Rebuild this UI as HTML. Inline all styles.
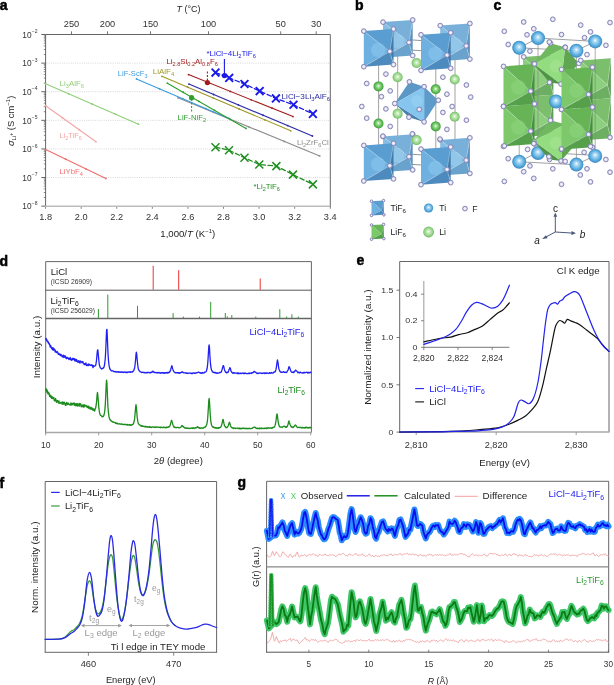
<!DOCTYPE html>
<html><head><meta charset="utf-8"><style>
html,body{margin:0;padding:0;background:#fff;}
svg{display:block;font-family:"Liberation Sans", sans-serif;}
text{-webkit-font-smoothing:antialiased;}
#wrap{will-change:transform;opacity:0.999;width:614px;height:685px;}
</style></head><body><div id="wrap">
<svg id="root" width="614" height="685" viewBox="0 0 614 685">
<rect width="614" height="685" fill="#fff"/>
<defs>
<radialGradient id="gLiL" cx="0.5" cy="0.5" r="0.55" fx="0.5" fy="0.45"><stop offset="0" stop-color="#ffffff"/><stop offset="0.22" stop-color="#cdeec0"/><stop offset="0.65" stop-color="#98d68a"/><stop offset="1" stop-color="#62ae56"/></radialGradient>
<radialGradient id="gLiD" cx="0.5" cy="0.5" r="0.55" fx="0.5" fy="0.45"><stop offset="0" stop-color="#ffffff"/><stop offset="0.22" stop-color="#a8e49a"/><stop offset="0.65" stop-color="#5cbb55"/><stop offset="1" stop-color="#358c35"/></radialGradient>
<radialGradient id="gTi" cx="0.5" cy="0.5" r="0.55" fx="0.5" fy="0.42"><stop offset="0" stop-color="#ffffff"/><stop offset="0.2" stop-color="#b5def6"/><stop offset="0.65" stop-color="#5aaee0"/><stop offset="1" stop-color="#2f7db5"/></radialGradient>
<radialGradient id="gF" cx="0.5" cy="0.5" r="0.5"><stop offset="0" stop-color="#ffffff"/><stop offset="0.5" stop-color="#e4e4f4"/><stop offset="1" stop-color="#b8b8d8"/></radialGradient>
</defs>
<g id="pa"><line x1="46.6" y1="63.11" x2="330.3" y2="63.11" stroke="#c8c8c8" stroke-width="0.8" stroke-dasharray="0.9 1.3"/><line x1="46.6" y1="91.72" x2="330.3" y2="91.72" stroke="#c8c8c8" stroke-width="0.8" stroke-dasharray="0.9 1.3"/><line x1="46.6" y1="120.33" x2="330.3" y2="120.33" stroke="#c8c8c8" stroke-width="0.8" stroke-dasharray="0.9 1.3"/><line x1="46.6" y1="148.94" x2="330.3" y2="148.94" stroke="#c8c8c8" stroke-width="0.8" stroke-dasharray="0.9 1.3"/><line x1="46.6" y1="177.55" x2="330.3" y2="177.55" stroke="#c8c8c8" stroke-width="0.8" stroke-dasharray="0.9 1.3"/><line x1="41.3" y1="34.5" x2="45.6" y2="34.5" stroke="#555" stroke-width="0.9" /><line x1="43.8" y1="54.5" x2="45.6" y2="54.5" stroke="#555" stroke-width="0.7" /><line x1="43.8" y1="49.46" x2="45.6" y2="49.46" stroke="#555" stroke-width="0.7" /><line x1="43.8" y1="45.89" x2="45.6" y2="45.89" stroke="#555" stroke-width="0.7" /><line x1="43.8" y1="43.11" x2="45.6" y2="43.11" stroke="#555" stroke-width="0.7" /><line x1="43.8" y1="40.85" x2="45.6" y2="40.85" stroke="#555" stroke-width="0.7" /><line x1="43.8" y1="38.93" x2="45.6" y2="38.93" stroke="#555" stroke-width="0.7" /><line x1="43.8" y1="37.27" x2="45.6" y2="37.27" stroke="#555" stroke-width="0.7" /><line x1="43.8" y1="35.81" x2="45.6" y2="35.81" stroke="#555" stroke-width="0.7" /><text x="31.6" y="37.8" font-size="8.3" fill="#333" text-anchor="end" font-weight="normal" >10</text><text x="31.8" y="33.2" font-size="5" fill="#333">−2</text><line x1="41.3" y1="63.11" x2="45.6" y2="63.11" stroke="#555" stroke-width="0.9" /><line x1="43.8" y1="83.11" x2="45.6" y2="83.11" stroke="#555" stroke-width="0.7" /><line x1="43.8" y1="78.07" x2="45.6" y2="78.07" stroke="#555" stroke-width="0.7" /><line x1="43.8" y1="74.5" x2="45.6" y2="74.5" stroke="#555" stroke-width="0.7" /><line x1="43.8" y1="71.72" x2="45.6" y2="71.72" stroke="#555" stroke-width="0.7" /><line x1="43.8" y1="69.46" x2="45.6" y2="69.46" stroke="#555" stroke-width="0.7" /><line x1="43.8" y1="67.54" x2="45.6" y2="67.54" stroke="#555" stroke-width="0.7" /><line x1="43.8" y1="65.88" x2="45.6" y2="65.88" stroke="#555" stroke-width="0.7" /><line x1="43.8" y1="64.42" x2="45.6" y2="64.42" stroke="#555" stroke-width="0.7" /><text x="31.6" y="66.41" font-size="8.3" fill="#333" text-anchor="end" font-weight="normal" >10</text><text x="31.8" y="61.81" font-size="5" fill="#333">−3</text><line x1="41.3" y1="91.72" x2="45.6" y2="91.72" stroke="#555" stroke-width="0.9" /><line x1="43.8" y1="111.72" x2="45.6" y2="111.72" stroke="#555" stroke-width="0.7" /><line x1="43.8" y1="106.68" x2="45.6" y2="106.68" stroke="#555" stroke-width="0.7" /><line x1="43.8" y1="103.11" x2="45.6" y2="103.11" stroke="#555" stroke-width="0.7" /><line x1="43.8" y1="100.33" x2="45.6" y2="100.33" stroke="#555" stroke-width="0.7" /><line x1="43.8" y1="98.07" x2="45.6" y2="98.07" stroke="#555" stroke-width="0.7" /><line x1="43.8" y1="96.15" x2="45.6" y2="96.15" stroke="#555" stroke-width="0.7" /><line x1="43.8" y1="94.49" x2="45.6" y2="94.49" stroke="#555" stroke-width="0.7" /><line x1="43.8" y1="93.03" x2="45.6" y2="93.03" stroke="#555" stroke-width="0.7" /><text x="31.6" y="95.02" font-size="8.3" fill="#333" text-anchor="end" font-weight="normal" >10</text><text x="31.8" y="90.42" font-size="5" fill="#333">−4</text><line x1="41.3" y1="120.33" x2="45.6" y2="120.33" stroke="#555" stroke-width="0.9" /><line x1="43.8" y1="140.33" x2="45.6" y2="140.33" stroke="#555" stroke-width="0.7" /><line x1="43.8" y1="135.29" x2="45.6" y2="135.29" stroke="#555" stroke-width="0.7" /><line x1="43.8" y1="131.72" x2="45.6" y2="131.72" stroke="#555" stroke-width="0.7" /><line x1="43.8" y1="128.94" x2="45.6" y2="128.94" stroke="#555" stroke-width="0.7" /><line x1="43.8" y1="126.68" x2="45.6" y2="126.68" stroke="#555" stroke-width="0.7" /><line x1="43.8" y1="124.76" x2="45.6" y2="124.76" stroke="#555" stroke-width="0.7" /><line x1="43.8" y1="123.1" x2="45.6" y2="123.1" stroke="#555" stroke-width="0.7" /><line x1="43.8" y1="121.64" x2="45.6" y2="121.64" stroke="#555" stroke-width="0.7" /><text x="31.6" y="123.63" font-size="8.3" fill="#333" text-anchor="end" font-weight="normal" >10</text><text x="31.8" y="119.03" font-size="5" fill="#333">−5</text><line x1="41.3" y1="148.94" x2="45.6" y2="148.94" stroke="#555" stroke-width="0.9" /><line x1="43.8" y1="168.94" x2="45.6" y2="168.94" stroke="#555" stroke-width="0.7" /><line x1="43.8" y1="163.9" x2="45.6" y2="163.9" stroke="#555" stroke-width="0.7" /><line x1="43.8" y1="160.33" x2="45.6" y2="160.33" stroke="#555" stroke-width="0.7" /><line x1="43.8" y1="157.55" x2="45.6" y2="157.55" stroke="#555" stroke-width="0.7" /><line x1="43.8" y1="155.29" x2="45.6" y2="155.29" stroke="#555" stroke-width="0.7" /><line x1="43.8" y1="153.37" x2="45.6" y2="153.37" stroke="#555" stroke-width="0.7" /><line x1="43.8" y1="151.71" x2="45.6" y2="151.71" stroke="#555" stroke-width="0.7" /><line x1="43.8" y1="150.25" x2="45.6" y2="150.25" stroke="#555" stroke-width="0.7" /><text x="31.6" y="152.24" font-size="8.3" fill="#333" text-anchor="end" font-weight="normal" >10</text><text x="31.8" y="147.64" font-size="5" fill="#333">−6</text><line x1="41.3" y1="177.55" x2="45.6" y2="177.55" stroke="#555" stroke-width="0.9" /><line x1="43.8" y1="197.55" x2="45.6" y2="197.55" stroke="#555" stroke-width="0.7" /><line x1="43.8" y1="192.51" x2="45.6" y2="192.51" stroke="#555" stroke-width="0.7" /><line x1="43.8" y1="188.94" x2="45.6" y2="188.94" stroke="#555" stroke-width="0.7" /><line x1="43.8" y1="186.16" x2="45.6" y2="186.16" stroke="#555" stroke-width="0.7" /><line x1="43.8" y1="183.9" x2="45.6" y2="183.9" stroke="#555" stroke-width="0.7" /><line x1="43.8" y1="181.98" x2="45.6" y2="181.98" stroke="#555" stroke-width="0.7" /><line x1="43.8" y1="180.32" x2="45.6" y2="180.32" stroke="#555" stroke-width="0.7" /><line x1="43.8" y1="178.86" x2="45.6" y2="178.86" stroke="#555" stroke-width="0.7" /><text x="31.6" y="180.85" font-size="8.3" fill="#333" text-anchor="end" font-weight="normal" >10</text><text x="31.8" y="176.25" font-size="5" fill="#333">−7</text><line x1="41.3" y1="206.16" x2="45.6" y2="206.16" stroke="#555" stroke-width="0.9" /><text x="31.6" y="209.46" font-size="8.3" fill="#333" text-anchor="end" font-weight="normal" >10</text><text x="31.8" y="204.86" font-size="5" fill="#333">−8</text><line x1="45.6" y1="206.2" x2="45.6" y2="208.8" stroke="#666" stroke-width="0.8" /><text transform="translate(45.6 220.3) scale(1.100 1)" x="0" y="0" font-size="8.4" fill="#333" text-anchor="middle" font-weight="normal" >1.8</text><line x1="81.18" y1="206.2" x2="81.18" y2="208.8" stroke="#666" stroke-width="0.8" /><text transform="translate(81.18 220.3) scale(1.100 1)" x="0" y="0" font-size="8.4" fill="#333" text-anchor="middle" font-weight="normal" >2.0</text><line x1="116.76" y1="206.2" x2="116.76" y2="208.8" stroke="#666" stroke-width="0.8" /><text transform="translate(116.76 220.3) scale(1.100 1)" x="0" y="0" font-size="8.4" fill="#333" text-anchor="middle" font-weight="normal" >2.2</text><line x1="152.34" y1="206.2" x2="152.34" y2="208.8" stroke="#666" stroke-width="0.8" /><text transform="translate(152.34 220.3) scale(1.100 1)" x="0" y="0" font-size="8.4" fill="#333" text-anchor="middle" font-weight="normal" >2.4</text><line x1="187.92" y1="206.2" x2="187.92" y2="208.8" stroke="#666" stroke-width="0.8" /><text transform="translate(187.92 220.3) scale(1.100 1)" x="0" y="0" font-size="8.4" fill="#333" text-anchor="middle" font-weight="normal" >2.6</text><line x1="223.5" y1="206.2" x2="223.5" y2="208.8" stroke="#666" stroke-width="0.8" /><text transform="translate(223.5 220.3) scale(1.100 1)" x="0" y="0" font-size="8.4" fill="#333" text-anchor="middle" font-weight="normal" >2.8</text><line x1="259.08" y1="206.2" x2="259.08" y2="208.8" stroke="#666" stroke-width="0.8" /><text transform="translate(259.08 220.3) scale(1.100 1)" x="0" y="0" font-size="8.4" fill="#333" text-anchor="middle" font-weight="normal" >3.0</text><line x1="294.66" y1="206.2" x2="294.66" y2="208.8" stroke="#666" stroke-width="0.8" /><text transform="translate(294.66 220.3) scale(1.100 1)" x="0" y="0" font-size="8.4" fill="#333" text-anchor="middle" font-weight="normal" >3.2</text><line x1="330.24" y1="206.2" x2="330.24" y2="208.8" stroke="#666" stroke-width="0.8" /><text transform="translate(330.24 220.3) scale(1.100 1)" x="0" y="0" font-size="8.4" fill="#333" text-anchor="middle" font-weight="normal" >3.4</text><line x1="71.5" y1="34.5" x2="71.5" y2="31.3" stroke="#555" stroke-width="0.8" /><text transform="translate(71.5 26.9) scale(1.100 1)" x="0" y="0" font-size="8.4" fill="#333" text-anchor="middle" font-weight="normal" >250</text><line x1="107.5" y1="34.5" x2="107.5" y2="31.3" stroke="#555" stroke-width="0.8" /><text transform="translate(107.5 26.9) scale(1.100 1)" x="0" y="0" font-size="8.4" fill="#333" text-anchor="middle" font-weight="normal" >200</text><line x1="150.5" y1="34.5" x2="150.5" y2="31.3" stroke="#555" stroke-width="0.8" /><text transform="translate(150.5 26.9) scale(1.100 1)" x="0" y="0" font-size="8.4" fill="#333" text-anchor="middle" font-weight="normal" >150</text><line x1="208.5" y1="34.5" x2="208.5" y2="31.3" stroke="#555" stroke-width="0.8" /><text transform="translate(208.5 26.9) scale(1.100 1)" x="0" y="0" font-size="8.4" fill="#333" text-anchor="middle" font-weight="normal" >100</text><line x1="280.7" y1="34.5" x2="280.7" y2="31.3" stroke="#555" stroke-width="0.8" /><text transform="translate(280.7 26.9) scale(1.100 1)" x="0" y="0" font-size="8.4" fill="#333" text-anchor="middle" font-weight="normal" >50</text><line x1="316.2" y1="34.5" x2="316.2" y2="31.3" stroke="#555" stroke-width="0.8" /><text transform="translate(316.2 26.9) scale(1.100 1)" x="0" y="0" font-size="8.4" fill="#333" text-anchor="middle" font-weight="normal" >30</text><line x1="45.6" y1="34.5" x2="330.3" y2="34.5" stroke="#555" stroke-width="0.9" /><line x1="45.6" y1="34.5" x2="45.6" y2="206.2" stroke="#555" stroke-width="0.9" /><line x1="330.3" y1="34.5" x2="330.3" y2="207.2" stroke="#555" stroke-width="0.9" /><line x1="45.1" y1="206.2" x2="330.3" y2="206.2" stroke="#bdbdbd" stroke-width="1.6" /><text transform="translate(176.5 11.7) scale(0.942 1)" x="0" y="0" font-size="9.5" fill="#1c1c1c" text-anchor="start" font-weight="normal" ><tspan font-style="italic">T</tspan> (°C)</text><text transform="translate(160.3 236.7) scale(1.002 1)" font-size="9.6" fill="#1c1c1c">1,000/<tspan font-style="italic">T</tspan> (K<tspan dy="-3.4" font-size="6">−1</tspan><tspan dy="3.4">)</tspan></text><text transform="translate(13.61 120.9) rotate(-90) scale(1.015 1)" x="0" y="0" font-size="9.2" fill="#1c1c1c" text-anchor="middle"><tspan font-style="italic">σ</tspan><tspan dy="2.2" font-size="6">Li</tspan><tspan dy="-3" font-size="5">+</tspan><tspan dy="0.8"> (S cm</tspan><tspan dy="-3.4" font-size="6">−1</tspan><tspan dy="3.4">)</tspan></text><text x="-0.3" y="9.8" font-size="14" font-weight="bold" fill="#000" stroke="#000" stroke-width="0.5">a</text><line x1="45.6" y1="83.8" x2="138.5" y2="124.2" stroke="#8fcf78" stroke-width="1.1" /><circle cx="68.83" cy="93.9" r="0.9" fill="#8fcf78"/><circle cx="92.05" cy="104" r="0.9" fill="#8fcf78"/><circle cx="115.28" cy="114.1" r="0.9" fill="#8fcf78"/><circle cx="45.6" cy="83.8" r="0.9" fill="#8fcf78"/><circle cx="138.5" cy="124.2" r="0.9" fill="#8fcf78"/><line x1="45.6" y1="105.7" x2="96" y2="141.8" stroke="#f5a5a5" stroke-width="1.1" /><circle cx="62.4" cy="117.73" r="0.9" fill="#f5a5a5"/><circle cx="79.2" cy="129.77" r="0.9" fill="#f5a5a5"/><circle cx="45.6" cy="105.7" r="0.9" fill="#f5a5a5"/><circle cx="96" cy="141.8" r="0.9" fill="#f5a5a5"/><line x1="45.6" y1="149.6" x2="105.9" y2="178.5" stroke="#f26d6d" stroke-width="1.1" /><circle cx="65.7" cy="159.23" r="0.9" fill="#f26d6d"/><circle cx="85.8" cy="168.87" r="0.9" fill="#f26d6d"/><circle cx="45.6" cy="149.6" r="0.9" fill="#f26d6d"/><circle cx="105.9" cy="178.5" r="0.9" fill="#f26d6d"/><line x1="178" y1="97.8" x2="319.7" y2="155.9" stroke="#8c8c8c" stroke-width="1.1" /><circle cx="213.43" cy="112.33" r="0.9" fill="#8c8c8c"/><circle cx="248.85" cy="126.85" r="0.9" fill="#8c8c8c"/><circle cx="284.27" cy="141.38" r="0.9" fill="#8c8c8c"/><circle cx="178" cy="97.8" r="0.9" fill="#8c8c8c"/><circle cx="319.7" cy="155.9" r="0.9" fill="#8c8c8c"/><line x1="136.5" y1="78.9" x2="229" y2="118.4" stroke="#3b9ce0" stroke-width="1.1" /><circle cx="159.62" cy="88.78" r="0.9" fill="#3b9ce0"/><circle cx="182.75" cy="98.65" r="0.9" fill="#3b9ce0"/><circle cx="205.88" cy="108.53" r="0.9" fill="#3b9ce0"/><circle cx="136.5" cy="78.9" r="0.9" fill="#3b9ce0"/><circle cx="229" cy="118.4" r="0.9" fill="#3b9ce0"/><line x1="161.9" y1="76.3" x2="290.7" y2="130.8" stroke="#a09a26" stroke-width="1.1" /><circle cx="187.66" cy="87.2" r="0.9" fill="#a09a26"/><circle cx="213.42" cy="98.1" r="0.9" fill="#a09a26"/><circle cx="239.18" cy="109" r="0.9" fill="#a09a26"/><circle cx="264.94" cy="119.9" r="0.9" fill="#a09a26"/><circle cx="161.9" cy="76.3" r="0.9" fill="#a09a26"/><circle cx="290.7" cy="130.8" r="0.9" fill="#a09a26"/><line x1="167.4" y1="83.2" x2="246" y2="128.4" stroke="#2e9e2e" stroke-width="1.1" /><circle cx="183.12" cy="92.24" r="0.9" fill="#2e9e2e"/><circle cx="198.84" cy="101.28" r="0.9" fill="#2e9e2e"/><circle cx="214.56" cy="110.32" r="0.9" fill="#2e9e2e"/><circle cx="230.28" cy="119.36" r="0.9" fill="#2e9e2e"/><circle cx="167.4" cy="83.2" r="0.9" fill="#2e9e2e"/><circle cx="246" cy="128.4" r="0.9" fill="#2e9e2e"/><line x1="188.9" y1="84.1" x2="312.4" y2="136" stroke="#2b2ba6" stroke-width="1.1" /><circle cx="213.6" cy="94.48" r="0.9" fill="#2b2ba6"/><circle cx="238.3" cy="104.86" r="0.9" fill="#2b2ba6"/><circle cx="263" cy="115.24" r="0.9" fill="#2b2ba6"/><circle cx="287.7" cy="125.62" r="0.9" fill="#2b2ba6"/><circle cx="188.9" cy="84.1" r="0.9" fill="#2b2ba6"/><circle cx="312.4" cy="136" r="0.9" fill="#2b2ba6"/><line x1="188.5" y1="74.6" x2="293" y2="116.6" stroke="#a31c1c" stroke-width="1.1" /><circle cx="209.4" cy="83" r="0.9" fill="#a31c1c"/><circle cx="230.3" cy="91.4" r="0.9" fill="#a31c1c"/><circle cx="251.2" cy="99.8" r="0.9" fill="#a31c1c"/><circle cx="272.1" cy="108.2" r="0.9" fill="#a31c1c"/><circle cx="188.5" cy="74.6" r="0.9" fill="#a31c1c"/><circle cx="293" cy="116.6" r="0.9" fill="#a31c1c"/><line x1="207.4" y1="71.5" x2="207.4" y2="81" stroke="#a31c1c" stroke-width="1.1" stroke-dasharray="2 1.5"/><circle cx="207.4" cy="82.6" r="2.6" fill="#a31c1c"/><line x1="191.6" y1="99" x2="191.6" y2="111.5" stroke="#2e9e2e" stroke-width="1.1" stroke-dasharray="2 1.5"/><circle cx="191.6" cy="97.7" r="2.6" fill="#2e9e2e"/><polyline points="215.5,72.6 229.2,77.9 244.5,84 259.7,91.1 275.9,98.4 293.5,104.8 312.9,113.9" fill="none" stroke="#1a1ae8" stroke-width="1.3" stroke-linejoin="round" stroke-linecap="round" stroke-dasharray="4.5 2.5"/><path d="M211.6,68.7L219.4,76.5M211.6,76.5L219.4,68.7" stroke="#1a1ae8" stroke-width="1.9" fill="none"/><path d="M225.3,74L233.1,81.8M225.3,81.8L233.1,74" stroke="#1a1ae8" stroke-width="1.9" fill="none"/><path d="M240.6,80.1L248.4,87.9M240.6,87.9L248.4,80.1" stroke="#1a1ae8" stroke-width="1.9" fill="none"/><path d="M255.8,87.2L263.6,95M255.8,95L263.6,87.2" stroke="#1a1ae8" stroke-width="1.9" fill="none"/><path d="M272,94.5L279.8,102.3M272,102.3L279.8,94.5" stroke="#1a1ae8" stroke-width="1.9" fill="none"/><path d="M289.6,100.9L297.4,108.7M289.6,108.7L297.4,100.9" stroke="#1a1ae8" stroke-width="1.9" fill="none"/><path d="M309,110L316.8,117.8M309,117.8L316.8,110" stroke="#1a1ae8" stroke-width="1.9" fill="none"/><line x1="224.4" y1="59" x2="224.4" y2="75" stroke="#1a1ae8" stroke-width="1.1" /><circle cx="224.4" cy="75.6" r="2.6" fill="#1a1ae8"/><polyline points="215.5,147.2 229,150.2 244.5,157.7 259.3,164.5 276.4,166.1 293,174.6 312.9,184.4" fill="none" stroke="#1f8f1f" stroke-width="1.3" stroke-linejoin="round" stroke-linecap="round" stroke-dasharray="4.5 2.5"/><path d="M211.5,143.2L219.5,151.2M211.5,151.2L219.5,143.2" stroke="#1f8f1f" stroke-width="1.5" fill="none"/><path d="M225,146.2L233,154.2M225,154.2L233,146.2" stroke="#1f8f1f" stroke-width="1.5" fill="none"/><path d="M240.5,153.7L248.5,161.7M240.5,161.7L248.5,153.7" stroke="#1f8f1f" stroke-width="1.5" fill="none"/><path d="M255.3,160.5L263.3,168.5M255.3,168.5L263.3,160.5" stroke="#1f8f1f" stroke-width="1.5" fill="none"/><path d="M272.4,162.1L280.4,170.1M272.4,170.1L280.4,162.1" stroke="#1f8f1f" stroke-width="1.5" fill="none"/><path d="M289,170.6L297,178.6M289,178.6L297,170.6" stroke="#1f8f1f" stroke-width="1.5" fill="none"/><path d="M308.9,180.4L316.9,188.4M308.9,188.4L316.9,180.4" stroke="#1f8f1f" stroke-width="1.5" fill="none"/><text transform="translate(59.6 85.68) scale(0.987 1)" x="0" y="0" font-size="8" fill="#8fcf78" text-anchor="start" font-weight="normal" >Li<tspan dy="2" font-size="0.72em">3</tspan><tspan dy="-2">​</tspan>AlF<tspan dy="2" font-size="0.72em">6</tspan><tspan dy="-2">​</tspan></text><text transform="translate(59.5 138.38) scale(0.929 1)" x="0" y="0" font-size="8" fill="#f5a5a5" text-anchor="start" font-weight="normal" >Li<tspan dy="2" font-size="0.72em">2</tspan><tspan dy="-2">​</tspan>TiF<tspan dy="2" font-size="0.72em">6</tspan><tspan dy="-2">​</tspan></text><text transform="translate(59.5 173.58) scale(0.975 1)" x="0" y="0" font-size="8" fill="#f26d6d" text-anchor="start" font-weight="normal" >LiYbF<tspan dy="2" font-size="0.72em">4</tspan><tspan dy="-2">​</tspan></text><text transform="translate(117.7 76.38) scale(0.955 1)" x="0" y="0" font-size="8" fill="#3b9ce0" text-anchor="start" font-weight="normal" >LiF-ScF<tspan dy="2" font-size="0.72em">3</tspan><tspan dy="-2">​</tspan></text><text x="152.7" y="73.88" font-size="8" fill="#a09a26" text-anchor="start" font-weight="normal" >LiAlF<tspan dy="2" font-size="0.72em">4</tspan><tspan dy="-2">​</tspan></text><text transform="translate(166.4 64.18) scale(0.978 1)" x="0" y="0" font-size="8" fill="#a31c1c" text-anchor="start" font-weight="normal" >Li<tspan dy="2" font-size="0.72em">2.8</tspan><tspan dy="-2">​</tspan>Si<tspan dy="2" font-size="0.72em">0.2</tspan><tspan dy="-2">​</tspan>Al<tspan dy="2" font-size="0.72em">0.8</tspan><tspan dy="-2">​</tspan>F<tspan dy="2" font-size="0.72em">6</tspan><tspan dy="-2">​</tspan></text><text transform="translate(177.6 119.98) scale(0.965 1)" x="0" y="0" font-size="8" fill="#2e9e2e" text-anchor="start" font-weight="normal" >LiF-NiF<tspan dy="2" font-size="0.72em">2</tspan><tspan dy="-2">​</tspan></text><text transform="translate(206.4 55.68) scale(0.992 1)" x="0" y="0" font-size="8" fill="#1a1ae8" text-anchor="start" font-weight="normal" >*LiCl−4Li<tspan dy="2" font-size="0.72em">2</tspan><tspan dy="-2">​</tspan>TiF<tspan dy="2" font-size="0.72em">6</tspan><tspan dy="-2">​</tspan></text><text transform="translate(281.6 98.68) scale(1.018 1)" x="0" y="0" font-size="8" fill="#2b2ba6" text-anchor="start" font-weight="normal" >LiCl−3Li<tspan dy="2" font-size="0.72em">3</tspan><tspan dy="-2">​</tspan>AlF<tspan dy="2" font-size="0.72em">6</tspan><tspan dy="-2">​</tspan></text><text transform="translate(296.9 145.08) scale(0.978 1)" x="0" y="0" font-size="8" fill="#8c8c8c" text-anchor="start" font-weight="normal" >Li<tspan dy="2" font-size="0.72em">2</tspan><tspan dy="-2">​</tspan>ZrF<tspan dy="2" font-size="0.72em">6</tspan><tspan dy="-2">​</tspan>Cl</text><text transform="translate(253.6 189.08) scale(0.970 1)" x="0" y="0" font-size="8" fill="#1f8f1f" text-anchor="start" font-weight="normal" >*Li<tspan dy="2" font-size="0.72em">2</tspan><tspan dy="-2">​</tspan>TiF<tspan dy="2" font-size="0.72em">6</tspan><tspan dy="-2">​</tspan></text></g>
<g id="pbc"><text x="354.9" y="9.8" font-size="14" font-weight="bold" fill="#000" stroke="#000" stroke-width="0.5">b</text><line x1="378.6" y1="48" x2="378.6" y2="162.3" stroke="#7a7a7a" stroke-width="0.7" /><line x1="397.7" y1="39" x2="397.7" y2="153.3" stroke="#7a7a7a" stroke-width="0.7" /><line x1="435.8" y1="51.6" x2="435.8" y2="165.9" stroke="#7a7a7a" stroke-width="0.7" /><line x1="455" y1="42.8" x2="455" y2="157.1" stroke="#7a7a7a" stroke-width="0.7" /><line x1="378.6" y1="48" x2="397.7" y2="39" stroke="#666" stroke-width="0.7" /><line x1="397.7" y1="39" x2="455" y2="42.8" stroke="#666" stroke-width="0.7" /><line x1="378.6" y1="48" x2="435.8" y2="51.6" stroke="#666" stroke-width="0.7" /><line x1="435.8" y1="51.6" x2="455" y2="42.8" stroke="#666" stroke-width="0.7" /><line x1="378.6" y1="162.3" x2="397.7" y2="153.3" stroke="#666" stroke-width="0.7" /><line x1="397.7" y1="153.3" x2="455" y2="157.1" stroke="#666" stroke-width="0.7" /><line x1="378.6" y1="162.3" x2="435.8" y2="165.9" stroke="#666" stroke-width="0.7" /><line x1="435.8" y1="165.9" x2="455" y2="157.1" stroke="#666" stroke-width="0.7" /><polygon points="383,22.1 383,57.7 409,42.4" fill="#86bde3" fill-opacity="1" stroke="none" stroke-width="0" stroke-linejoin="round"/><polygon points="383,22.1 412.7,20 409,42.4" fill="#79b0da" fill-opacity="1" stroke="none" stroke-width="0" stroke-linejoin="round"/><polygon points="412.7,20 412.7,55.6 409,42.4" fill="#5b93c0" fill-opacity="1" stroke="none" stroke-width="0" stroke-linejoin="round"/><polygon points="383,57.7 412.7,55.6 409,42.4" fill="#6aa2ce" fill-opacity="1" stroke="none" stroke-width="0" stroke-linejoin="round"/><line x1="383" y1="22.1" x2="409" y2="42.4" stroke="#dfe8ef" stroke-width="0.35" /><line x1="412.7" y1="20" x2="409" y2="42.4" stroke="#dfe8ef" stroke-width="0.35" /><line x1="412.7" y1="55.6" x2="409" y2="42.4" stroke="#dfe8ef" stroke-width="0.35" /><line x1="383" y1="57.7" x2="409" y2="42.4" stroke="#dfe8ef" stroke-width="0.35" /><circle cx="397.35" cy="40.9" r="7.13" fill="#9fd0f0" opacity="0.55"/><circle cx="383" cy="22.1" r="2.4" fill="url(#gF)" stroke="#8282b4" stroke-width="0.9"/><circle cx="412.7" cy="20" r="2.4" fill="url(#gF)" stroke="#8282b4" stroke-width="0.9"/><circle cx="412.7" cy="55.6" r="2.4" fill="url(#gF)" stroke="#8282b4" stroke-width="0.9"/><circle cx="383" cy="57.7" r="2.4" fill="url(#gF)" stroke="#8282b4" stroke-width="0.9"/><circle cx="409" cy="42.4" r="2.4" fill="url(#gF)" stroke="#8282b4" stroke-width="0.9"/><polygon points="440.2,25.6 440.2,61.2 466.2,45.9" fill="#86bde3" fill-opacity="1" stroke="none" stroke-width="0" stroke-linejoin="round"/><polygon points="440.2,25.6 469.9,23.5 466.2,45.9" fill="#79b0da" fill-opacity="1" stroke="none" stroke-width="0" stroke-linejoin="round"/><polygon points="469.9,23.5 469.9,59.1 466.2,45.9" fill="#5b93c0" fill-opacity="1" stroke="none" stroke-width="0" stroke-linejoin="round"/><polygon points="440.2,61.2 469.9,59.1 466.2,45.9" fill="#6aa2ce" fill-opacity="1" stroke="none" stroke-width="0" stroke-linejoin="round"/><line x1="440.2" y1="25.6" x2="466.2" y2="45.9" stroke="#dfe8ef" stroke-width="0.35" /><line x1="469.9" y1="23.5" x2="466.2" y2="45.9" stroke="#dfe8ef" stroke-width="0.35" /><line x1="469.9" y1="59.1" x2="466.2" y2="45.9" stroke="#dfe8ef" stroke-width="0.35" /><line x1="440.2" y1="61.2" x2="466.2" y2="45.9" stroke="#dfe8ef" stroke-width="0.35" /><circle cx="454.55" cy="44.4" r="7.13" fill="#9fd0f0" opacity="0.55"/><circle cx="440.2" cy="25.6" r="2.4" fill="url(#gF)" stroke="#8282b4" stroke-width="0.9"/><circle cx="469.9" cy="23.5" r="2.4" fill="url(#gF)" stroke="#8282b4" stroke-width="0.9"/><circle cx="469.9" cy="59.1" r="2.4" fill="url(#gF)" stroke="#8282b4" stroke-width="0.9"/><circle cx="440.2" cy="61.2" r="2.4" fill="url(#gF)" stroke="#8282b4" stroke-width="0.9"/><circle cx="466.2" cy="45.9" r="2.4" fill="url(#gF)" stroke="#8282b4" stroke-width="0.9"/><polygon points="383,136.4 383,172 409,156.7" fill="#86bde3" fill-opacity="1" stroke="none" stroke-width="0" stroke-linejoin="round"/><polygon points="383,136.4 412.7,134.3 409,156.7" fill="#79b0da" fill-opacity="1" stroke="none" stroke-width="0" stroke-linejoin="round"/><polygon points="412.7,134.3 412.7,169.9 409,156.7" fill="#5b93c0" fill-opacity="1" stroke="none" stroke-width="0" stroke-linejoin="round"/><polygon points="383,172 412.7,169.9 409,156.7" fill="#6aa2ce" fill-opacity="1" stroke="none" stroke-width="0" stroke-linejoin="round"/><line x1="383" y1="136.4" x2="409" y2="156.7" stroke="#dfe8ef" stroke-width="0.35" /><line x1="412.7" y1="134.3" x2="409" y2="156.7" stroke="#dfe8ef" stroke-width="0.35" /><line x1="412.7" y1="169.9" x2="409" y2="156.7" stroke="#dfe8ef" stroke-width="0.35" /><line x1="383" y1="172" x2="409" y2="156.7" stroke="#dfe8ef" stroke-width="0.35" /><circle cx="397.35" cy="155.2" r="7.13" fill="#9fd0f0" opacity="0.55"/><circle cx="383" cy="136.4" r="2.4" fill="url(#gF)" stroke="#8282b4" stroke-width="0.9"/><circle cx="412.7" cy="134.3" r="2.4" fill="url(#gF)" stroke="#8282b4" stroke-width="0.9"/><circle cx="412.7" cy="169.9" r="2.4" fill="url(#gF)" stroke="#8282b4" stroke-width="0.9"/><circle cx="383" cy="172" r="2.4" fill="url(#gF)" stroke="#8282b4" stroke-width="0.9"/><circle cx="409" cy="156.7" r="2.4" fill="url(#gF)" stroke="#8282b4" stroke-width="0.9"/><polygon points="440.2,139.9 440.2,175.5 466.2,160.2" fill="#86bde3" fill-opacity="1" stroke="none" stroke-width="0" stroke-linejoin="round"/><polygon points="440.2,139.9 469.9,137.8 466.2,160.2" fill="#79b0da" fill-opacity="1" stroke="none" stroke-width="0" stroke-linejoin="round"/><polygon points="469.9,137.8 469.9,173.4 466.2,160.2" fill="#5b93c0" fill-opacity="1" stroke="none" stroke-width="0" stroke-linejoin="round"/><polygon points="440.2,175.5 469.9,173.4 466.2,160.2" fill="#6aa2ce" fill-opacity="1" stroke="none" stroke-width="0" stroke-linejoin="round"/><line x1="440.2" y1="139.9" x2="466.2" y2="160.2" stroke="#dfe8ef" stroke-width="0.35" /><line x1="469.9" y1="137.8" x2="466.2" y2="160.2" stroke="#dfe8ef" stroke-width="0.35" /><line x1="469.9" y1="173.4" x2="466.2" y2="160.2" stroke="#dfe8ef" stroke-width="0.35" /><line x1="440.2" y1="175.5" x2="466.2" y2="160.2" stroke="#dfe8ef" stroke-width="0.35" /><circle cx="454.55" cy="158.7" r="7.13" fill="#9fd0f0" opacity="0.55"/><circle cx="440.2" cy="139.9" r="2.4" fill="url(#gF)" stroke="#8282b4" stroke-width="0.9"/><circle cx="469.9" cy="137.8" r="2.4" fill="url(#gF)" stroke="#8282b4" stroke-width="0.9"/><circle cx="469.9" cy="173.4" r="2.4" fill="url(#gF)" stroke="#8282b4" stroke-width="0.9"/><circle cx="440.2" cy="175.5" r="2.4" fill="url(#gF)" stroke="#8282b4" stroke-width="0.9"/><circle cx="466.2" cy="160.2" r="2.4" fill="url(#gF)" stroke="#8282b4" stroke-width="0.9"/><circle cx="385.9" cy="74.1" r="2.4" fill="url(#gF)" stroke="#8282b4" stroke-width="0.9"/><circle cx="366.7" cy="83.5" r="2.4" fill="url(#gF)" stroke="#8282b4" stroke-width="0.9"/><circle cx="390.2" cy="90.9" r="2.4" fill="url(#gF)" stroke="#8282b4" stroke-width="0.9"/><circle cx="442.9" cy="77.2" r="2.4" fill="url(#gF)" stroke="#8282b4" stroke-width="0.9"/><circle cx="446.9" cy="94.2" r="2.4" fill="url(#gF)" stroke="#8282b4" stroke-width="0.9"/><circle cx="466.4" cy="85" r="2.4" fill="url(#gF)" stroke="#8282b4" stroke-width="0.9"/><circle cx="470.7" cy="97.1" r="2.4" fill="url(#gF)" stroke="#8282b4" stroke-width="0.9"/><circle cx="381.4" cy="96.7" r="2.4" fill="url(#gF)" stroke="#8282b4" stroke-width="0.9"/><circle cx="361.8" cy="106.5" r="2.4" fill="url(#gF)" stroke="#8282b4" stroke-width="0.9"/><circle cx="385.9" cy="108.9" r="2.4" fill="url(#gF)" stroke="#8282b4" stroke-width="0.9"/><circle cx="452.1" cy="106.5" r="2.4" fill="url(#gF)" stroke="#8282b4" stroke-width="0.9"/><circle cx="442.9" cy="112.4" r="2.4" fill="url(#gF)" stroke="#8282b4" stroke-width="0.9"/><circle cx="366.7" cy="118.2" r="2.4" fill="url(#gF)" stroke="#8282b4" stroke-width="0.9"/><circle cx="390.2" cy="126.4" r="2.4" fill="url(#gF)" stroke="#8282b4" stroke-width="0.9"/><circle cx="446.9" cy="129.4" r="2.4" fill="url(#gF)" stroke="#8282b4" stroke-width="0.9"/><circle cx="466.4" cy="120.2" r="2.4" fill="url(#gF)" stroke="#8282b4" stroke-width="0.9"/><circle cx="382.9" cy="136.2" r="2.4" fill="url(#gF)" stroke="#8282b4" stroke-width="0.9"/><circle cx="440" cy="139.1" r="2.4" fill="url(#gF)" stroke="#8282b4" stroke-width="0.9"/><circle cx="412.3" cy="133.9" r="2.4" fill="url(#gF)" stroke="#8282b4" stroke-width="0.9"/><circle cx="397.6" cy="77.2" r="5" fill="url(#gLiL)"/><circle cx="416.6" cy="63" r="5" fill="url(#gLiL)"/><circle cx="454.7" cy="79.5" r="5" fill="url(#gLiL)"/><circle cx="397.6" cy="113.7" r="5" fill="url(#gLiL)"/><circle cx="454.7" cy="116.7" r="5" fill="url(#gLiL)"/><circle cx="416.6" cy="140.1" r="5" fill="url(#gLiL)"/><polygon points="394.8,103.5 409.4,81.8 424.1,86.7" fill="#5b98c6" fill-opacity="1" stroke="none" stroke-width="0" stroke-linejoin="round"/><polygon points="424.1,86.7 438.3,100.2 424.1,121.9" fill="#5d9bcb" fill-opacity="1" stroke="none" stroke-width="0" stroke-linejoin="round"/><polygon points="394.8,103.5 408.9,117.2 424.1,121.9" fill="#4a80ae" fill-opacity="1" stroke="none" stroke-width="0" stroke-linejoin="round"/><polygon points="394.8,103.5 424.1,86.7 424.1,121.9" fill="#85c5ee" fill-opacity="1" stroke="none" stroke-width="0" stroke-linejoin="round"/><circle cx="417" cy="101" r="6" fill="#9ad2f4" opacity="0.6"/><circle cx="409.4" cy="81.8" r="2.4" fill="url(#gF)" stroke="#8282b4" stroke-width="0.9"/><circle cx="424.1" cy="86.7" r="2.4" fill="url(#gF)" stroke="#8282b4" stroke-width="0.9"/><circle cx="438.3" cy="100.2" r="2.4" fill="url(#gF)" stroke="#8282b4" stroke-width="0.9"/><circle cx="424.1" cy="121.9" r="2.4" fill="url(#gF)" stroke="#8282b4" stroke-width="0.9"/><circle cx="408.9" cy="117.2" r="2.4" fill="url(#gF)" stroke="#8282b4" stroke-width="0.9"/><circle cx="394.8" cy="103.5" r="2.4" fill="url(#gF)" stroke="#8282b4" stroke-width="0.9"/><circle cx="419.2" cy="109.4" r="2.4" fill="url(#gF)" stroke="#8282b4" stroke-width="0.9"/><circle cx="378.5" cy="86.4" r="5" fill="url(#gLiD)"/><circle cx="435.7" cy="89.3" r="5" fill="url(#gLiD)"/><circle cx="378.5" cy="123.5" r="5" fill="url(#gLiD)"/><circle cx="435.7" cy="126.4" r="5" fill="url(#gLiD)"/><polygon points="363.8,31.1 363.8,66.7 389.8,51.4" fill="#6eb1e0" fill-opacity="1" stroke="none" stroke-width="0" stroke-linejoin="round"/><polygon points="363.8,31.1 393.5,29 389.8,51.4" fill="#5a9dd0" fill-opacity="1" stroke="none" stroke-width="0" stroke-linejoin="round"/><polygon points="393.5,29 393.5,64.6 389.8,51.4" fill="#3f7cae" fill-opacity="1" stroke="none" stroke-width="0" stroke-linejoin="round"/><polygon points="363.8,66.7 393.5,64.6 389.8,51.4" fill="#4d8bbf" fill-opacity="1" stroke="none" stroke-width="0" stroke-linejoin="round"/><line x1="363.8" y1="31.1" x2="389.8" y2="51.4" stroke="#dfe8ef" stroke-width="0.35" /><line x1="393.5" y1="29" x2="389.8" y2="51.4" stroke="#dfe8ef" stroke-width="0.35" /><line x1="393.5" y1="64.6" x2="389.8" y2="51.4" stroke="#dfe8ef" stroke-width="0.35" /><line x1="363.8" y1="66.7" x2="389.8" y2="51.4" stroke="#dfe8ef" stroke-width="0.35" /><circle cx="378.15" cy="49.9" r="7.13" fill="#8cc8ee" opacity="0.55"/><circle cx="363.8" cy="31.1" r="2.4" fill="url(#gF)" stroke="#8282b4" stroke-width="0.9"/><circle cx="393.5" cy="29" r="2.4" fill="url(#gF)" stroke="#8282b4" stroke-width="0.9"/><circle cx="393.5" cy="64.6" r="2.4" fill="url(#gF)" stroke="#8282b4" stroke-width="0.9"/><circle cx="363.8" cy="66.7" r="2.4" fill="url(#gF)" stroke="#8282b4" stroke-width="0.9"/><circle cx="389.8" cy="51.4" r="2.4" fill="url(#gF)" stroke="#8282b4" stroke-width="0.9"/><polygon points="421,34.8 421,70.4 447,55.1" fill="#6eb1e0" fill-opacity="1" stroke="none" stroke-width="0" stroke-linejoin="round"/><polygon points="421,34.8 450.7,32.7 447,55.1" fill="#5a9dd0" fill-opacity="1" stroke="none" stroke-width="0" stroke-linejoin="round"/><polygon points="450.7,32.7 450.7,68.3 447,55.1" fill="#3f7cae" fill-opacity="1" stroke="none" stroke-width="0" stroke-linejoin="round"/><polygon points="421,70.4 450.7,68.3 447,55.1" fill="#4d8bbf" fill-opacity="1" stroke="none" stroke-width="0" stroke-linejoin="round"/><line x1="421" y1="34.8" x2="447" y2="55.1" stroke="#dfe8ef" stroke-width="0.35" /><line x1="450.7" y1="32.7" x2="447" y2="55.1" stroke="#dfe8ef" stroke-width="0.35" /><line x1="450.7" y1="68.3" x2="447" y2="55.1" stroke="#dfe8ef" stroke-width="0.35" /><line x1="421" y1="70.4" x2="447" y2="55.1" stroke="#dfe8ef" stroke-width="0.35" /><circle cx="435.35" cy="53.6" r="7.13" fill="#8cc8ee" opacity="0.55"/><circle cx="421" cy="34.8" r="2.4" fill="url(#gF)" stroke="#8282b4" stroke-width="0.9"/><circle cx="450.7" cy="32.7" r="2.4" fill="url(#gF)" stroke="#8282b4" stroke-width="0.9"/><circle cx="450.7" cy="68.3" r="2.4" fill="url(#gF)" stroke="#8282b4" stroke-width="0.9"/><circle cx="421" cy="70.4" r="2.4" fill="url(#gF)" stroke="#8282b4" stroke-width="0.9"/><circle cx="447" cy="55.1" r="2.4" fill="url(#gF)" stroke="#8282b4" stroke-width="0.9"/><polygon points="363.8,145.4 363.8,181 389.8,165.7" fill="#6eb1e0" fill-opacity="1" stroke="none" stroke-width="0" stroke-linejoin="round"/><polygon points="363.8,145.4 393.5,143.3 389.8,165.7" fill="#5a9dd0" fill-opacity="1" stroke="none" stroke-width="0" stroke-linejoin="round"/><polygon points="393.5,143.3 393.5,178.9 389.8,165.7" fill="#3f7cae" fill-opacity="1" stroke="none" stroke-width="0" stroke-linejoin="round"/><polygon points="363.8,181 393.5,178.9 389.8,165.7" fill="#4d8bbf" fill-opacity="1" stroke="none" stroke-width="0" stroke-linejoin="round"/><line x1="363.8" y1="145.4" x2="389.8" y2="165.7" stroke="#dfe8ef" stroke-width="0.35" /><line x1="393.5" y1="143.3" x2="389.8" y2="165.7" stroke="#dfe8ef" stroke-width="0.35" /><line x1="393.5" y1="178.9" x2="389.8" y2="165.7" stroke="#dfe8ef" stroke-width="0.35" /><line x1="363.8" y1="181" x2="389.8" y2="165.7" stroke="#dfe8ef" stroke-width="0.35" /><circle cx="378.15" cy="164.2" r="7.13" fill="#8cc8ee" opacity="0.55"/><circle cx="363.8" cy="145.4" r="2.4" fill="url(#gF)" stroke="#8282b4" stroke-width="0.9"/><circle cx="393.5" cy="143.3" r="2.4" fill="url(#gF)" stroke="#8282b4" stroke-width="0.9"/><circle cx="393.5" cy="178.9" r="2.4" fill="url(#gF)" stroke="#8282b4" stroke-width="0.9"/><circle cx="363.8" cy="181" r="2.4" fill="url(#gF)" stroke="#8282b4" stroke-width="0.9"/><circle cx="389.8" cy="165.7" r="2.4" fill="url(#gF)" stroke="#8282b4" stroke-width="0.9"/><polygon points="421,149.1 421,184.7 447,169.4" fill="#6eb1e0" fill-opacity="1" stroke="none" stroke-width="0" stroke-linejoin="round"/><polygon points="421,149.1 450.7,147 447,169.4" fill="#5a9dd0" fill-opacity="1" stroke="none" stroke-width="0" stroke-linejoin="round"/><polygon points="450.7,147 450.7,182.6 447,169.4" fill="#3f7cae" fill-opacity="1" stroke="none" stroke-width="0" stroke-linejoin="round"/><polygon points="421,184.7 450.7,182.6 447,169.4" fill="#4d8bbf" fill-opacity="1" stroke="none" stroke-width="0" stroke-linejoin="round"/><line x1="421" y1="149.1" x2="447" y2="169.4" stroke="#dfe8ef" stroke-width="0.35" /><line x1="450.7" y1="147" x2="447" y2="169.4" stroke="#dfe8ef" stroke-width="0.35" /><line x1="450.7" y1="182.6" x2="447" y2="169.4" stroke="#dfe8ef" stroke-width="0.35" /><line x1="421" y1="184.7" x2="447" y2="169.4" stroke="#dfe8ef" stroke-width="0.35" /><circle cx="435.35" cy="167.9" r="7.13" fill="#8cc8ee" opacity="0.55"/><circle cx="421" cy="149.1" r="2.4" fill="url(#gF)" stroke="#8282b4" stroke-width="0.9"/><circle cx="450.7" cy="147" r="2.4" fill="url(#gF)" stroke="#8282b4" stroke-width="0.9"/><circle cx="450.7" cy="182.6" r="2.4" fill="url(#gF)" stroke="#8282b4" stroke-width="0.9"/><circle cx="421" cy="184.7" r="2.4" fill="url(#gF)" stroke="#8282b4" stroke-width="0.9"/><circle cx="447" cy="169.4" r="2.4" fill="url(#gF)" stroke="#8282b4" stroke-width="0.9"/><polygon points="371.5,201.2 371.5,215.4 382,210.2" fill="#6eb1e0" fill-opacity="1" stroke="none" stroke-width="0" stroke-linejoin="round"/><polygon points="371.5,201.2 383.5,200.6 382,210.2" fill="#5a9dd0" fill-opacity="1" stroke="none" stroke-width="0" stroke-linejoin="round"/><polygon points="383.5,200.6 383.9,214.8 382,210.2" fill="#3f7cae" fill-opacity="1" stroke="none" stroke-width="0" stroke-linejoin="round"/><polygon points="371.5,215.4 383.9,214.8 382,210.2" fill="#4d8bbf" fill-opacity="1" stroke="none" stroke-width="0" stroke-linejoin="round"/><circle cx="371.5" cy="201.2" r="1.3" fill="url(#gF)" stroke="#8282b4" stroke-width="0.9"/><circle cx="383.5" cy="200.6" r="1.3" fill="url(#gF)" stroke="#8282b4" stroke-width="0.9"/><circle cx="383.9" cy="214.8" r="1.3" fill="url(#gF)" stroke="#8282b4" stroke-width="0.9"/><circle cx="371.5" cy="215.4" r="1.3" fill="url(#gF)" stroke="#8282b4" stroke-width="0.9"/><polygon points="371.5,225 371.5,239.2 382,234" fill="#7cc96a" fill-opacity="1" stroke="none" stroke-width="0" stroke-linejoin="round"/><polygon points="371.5,225 383.5,224.4 382,234" fill="#66b556" fill-opacity="1" stroke="none" stroke-width="0" stroke-linejoin="round"/><polygon points="383.5,224.4 383.9,238.6 382,234" fill="#3f8f3a" fill-opacity="1" stroke="none" stroke-width="0" stroke-linejoin="round"/><polygon points="371.5,239.2 383.9,238.6 382,234" fill="#4f9f48" fill-opacity="1" stroke="none" stroke-width="0" stroke-linejoin="round"/><circle cx="371.5" cy="225" r="1.3" fill="url(#gF)" stroke="#8282b4" stroke-width="0.9"/><circle cx="383.5" cy="224.4" r="1.3" fill="url(#gF)" stroke="#8282b4" stroke-width="0.9"/><circle cx="383.9" cy="238.6" r="1.3" fill="url(#gF)" stroke="#8282b4" stroke-width="0.9"/><circle cx="371.5" cy="239.2" r="1.3" fill="url(#gF)" stroke="#8282b4" stroke-width="0.9"/><text x="390.5" y="211.3" font-size="8.6" fill="#1c1c1c" text-anchor="start" font-weight="normal" >TiF<tspan dy="2.15" font-size="0.72em">6</tspan><tspan dy="-2.15">​</tspan></text><text x="390.5" y="235.2" font-size="8.6" fill="#1c1c1c" text-anchor="start" font-weight="normal" >LiF<tspan dy="2.15" font-size="0.72em">6</tspan><tspan dy="-2.15">​</tspan></text><circle cx="428.6" cy="208" r="4.6" fill="url(#gTi)"/><text x="439.3" y="211.3" font-size="8.6" fill="#1c1c1c" text-anchor="start" font-weight="normal" >Ti</text><circle cx="428.6" cy="232" r="5.4" fill="url(#gLiL)"/><text x="439.3" y="235.2" font-size="8.6" fill="#1c1c1c" text-anchor="start" font-weight="normal" >Li</text><circle cx="465" cy="208.6" r="2.4" fill="url(#gF)" stroke="#8282b4" stroke-width="0.9"/><text x="472.2" y="211.6" font-size="8.6" fill="#1c1c1c" text-anchor="start" font-weight="normal" >F</text><text x="493.6" y="9.9" font-size="14" font-weight="bold" fill="#000" stroke="#000" stroke-width="0.5">c</text><polygon points="523,57 523,97 550,81.5" fill="#8ccf7c" fill-opacity="1" stroke="none" stroke-width="0" stroke-linejoin="round"/><polygon points="523,57 553.4,54.8 550,81.5" fill="#7bbf6c" fill-opacity="1" stroke="none" stroke-width="0" stroke-linejoin="round"/><polygon points="553.4,54.8 553.4,94.8 550,81.5" fill="#5e9e55" fill-opacity="1" stroke="none" stroke-width="0" stroke-linejoin="round"/><polygon points="523,97 553.4,94.8 550,81.5" fill="#6cae62" fill-opacity="1" stroke="none" stroke-width="0" stroke-linejoin="round"/><line x1="523" y1="57" x2="550" y2="81.5" stroke="#dfe8ef" stroke-width="0.35" /><line x1="553.4" y1="54.8" x2="550" y2="81.5" stroke="#dfe8ef" stroke-width="0.35" /><line x1="553.4" y1="94.8" x2="550" y2="81.5" stroke="#dfe8ef" stroke-width="0.35" /><line x1="523" y1="97" x2="550" y2="81.5" stroke="#dfe8ef" stroke-width="0.35" /><polygon points="580.5,60.5 580.5,100.5 607.5,85" fill="#8ccf7c" fill-opacity="1" stroke="none" stroke-width="0" stroke-linejoin="round"/><polygon points="580.5,60.5 610.9,58.3 607.5,85" fill="#7bbf6c" fill-opacity="1" stroke="none" stroke-width="0" stroke-linejoin="round"/><polygon points="610.9,58.3 610.9,98.3 607.5,85" fill="#5e9e55" fill-opacity="1" stroke="none" stroke-width="0" stroke-linejoin="round"/><polygon points="580.5,100.5 610.9,98.3 607.5,85" fill="#6cae62" fill-opacity="1" stroke="none" stroke-width="0" stroke-linejoin="round"/><line x1="580.5" y1="60.5" x2="607.5" y2="85" stroke="#dfe8ef" stroke-width="0.35" /><line x1="610.9" y1="58.3" x2="607.5" y2="85" stroke="#dfe8ef" stroke-width="0.35" /><line x1="610.9" y1="98.3" x2="607.5" y2="85" stroke="#dfe8ef" stroke-width="0.35" /><line x1="580.5" y1="100.5" x2="607.5" y2="85" stroke="#dfe8ef" stroke-width="0.35" /><polygon points="523,97 523,137 550,121.5" fill="#8ccf7c" fill-opacity="1" stroke="none" stroke-width="0" stroke-linejoin="round"/><polygon points="523,97 553.4,94.8 550,121.5" fill="#7bbf6c" fill-opacity="1" stroke="none" stroke-width="0" stroke-linejoin="round"/><polygon points="553.4,94.8 553.4,134.8 550,121.5" fill="#5e9e55" fill-opacity="1" stroke="none" stroke-width="0" stroke-linejoin="round"/><polygon points="523,137 553.4,134.8 550,121.5" fill="#6cae62" fill-opacity="1" stroke="none" stroke-width="0" stroke-linejoin="round"/><line x1="523" y1="97" x2="550" y2="121.5" stroke="#dfe8ef" stroke-width="0.35" /><line x1="553.4" y1="94.8" x2="550" y2="121.5" stroke="#dfe8ef" stroke-width="0.35" /><line x1="553.4" y1="134.8" x2="550" y2="121.5" stroke="#dfe8ef" stroke-width="0.35" /><line x1="523" y1="137" x2="550" y2="121.5" stroke="#dfe8ef" stroke-width="0.35" /><polygon points="580.5,100.5 580.5,140.5 607.5,125" fill="#8ccf7c" fill-opacity="1" stroke="none" stroke-width="0" stroke-linejoin="round"/><polygon points="580.5,100.5 610.9,98.3 607.5,125" fill="#7bbf6c" fill-opacity="1" stroke="none" stroke-width="0" stroke-linejoin="round"/><polygon points="610.9,98.3 610.9,138.3 607.5,125" fill="#5e9e55" fill-opacity="1" stroke="none" stroke-width="0" stroke-linejoin="round"/><polygon points="580.5,140.5 610.9,138.3 607.5,125" fill="#6cae62" fill-opacity="1" stroke="none" stroke-width="0" stroke-linejoin="round"/><line x1="580.5" y1="100.5" x2="607.5" y2="125" stroke="#dfe8ef" stroke-width="0.35" /><line x1="610.9" y1="98.3" x2="607.5" y2="125" stroke="#dfe8ef" stroke-width="0.35" /><line x1="610.9" y1="138.3" x2="607.5" y2="125" stroke="#dfe8ef" stroke-width="0.35" /><line x1="580.5" y1="140.5" x2="607.5" y2="125" stroke="#dfe8ef" stroke-width="0.35" /><line x1="519.2" y1="47.8" x2="519.2" y2="161.8" stroke="#8a8a8a" stroke-width="0.7" /><line x1="538" y1="38.1" x2="538" y2="152.1" stroke="#8a8a8a" stroke-width="0.7" /><line x1="576.4" y1="50.7" x2="576.4" y2="164.7" stroke="#8a8a8a" stroke-width="0.7" /><line x1="595.2" y1="41.4" x2="595.2" y2="155.4" stroke="#8a8a8a" stroke-width="0.7" /><line x1="519.2" y1="47.8" x2="538" y2="38.1" stroke="#777" stroke-width="0.7" /><line x1="538" y1="38.1" x2="595.2" y2="41.4" stroke="#777" stroke-width="0.7" /><line x1="519.2" y1="47.8" x2="576.4" y2="50.7" stroke="#777" stroke-width="0.7" /><line x1="576.4" y1="50.7" x2="595.2" y2="41.4" stroke="#777" stroke-width="0.7" /><line x1="519.2" y1="161.8" x2="538" y2="152.1" stroke="#777" stroke-width="0.7" /><line x1="538" y1="152.1" x2="595.2" y2="155.4" stroke="#777" stroke-width="0.7" /><line x1="519.2" y1="161.8" x2="576.4" y2="164.7" stroke="#777" stroke-width="0.7" /><line x1="576.4" y1="164.7" x2="595.2" y2="155.4" stroke="#777" stroke-width="0.7" /><circle cx="538" cy="38.1" r="7" fill="url(#gTi)"/><circle cx="595.2" cy="41.4" r="7" fill="url(#gTi)"/><circle cx="538" cy="153" r="7" fill="url(#gTi)"/><circle cx="595.2" cy="155.9" r="7" fill="url(#gTi)"/><polygon points="533.7,63.9 550.5,43.3 565.1,47.2" fill="#6fb85f" fill-opacity="1" stroke="none" stroke-width="0" stroke-linejoin="round"/><polygon points="565.1,47.2 578.8,63.4 561,84" fill="#5fa552" fill-opacity="1" stroke="none" stroke-width="0" stroke-linejoin="round"/><polygon points="533.7,63.9 549.5,82.4 561,84" fill="#4f9446" fill-opacity="1" stroke="none" stroke-width="0" stroke-linejoin="round"/><polygon points="533.7,63.9 565.1,47.2 561,84" fill="#93dc80" fill-opacity="1" stroke="none" stroke-width="0" stroke-linejoin="round"/><circle cx="556" cy="66" r="6.5" fill="#a6e493" opacity="0.6"/><polygon points="533.7,140.9 550.5,120.3 565.1,124.2" fill="#6fb85f" fill-opacity="1" stroke="none" stroke-width="0" stroke-linejoin="round"/><polygon points="565.1,124.2 578.8,140.4 561,161" fill="#5fa552" fill-opacity="1" stroke="none" stroke-width="0" stroke-linejoin="round"/><polygon points="533.7,140.9 549.5,159.4 561,161" fill="#4f9446" fill-opacity="1" stroke="none" stroke-width="0" stroke-linejoin="round"/><polygon points="533.7,140.9 565.1,124.2 561,161" fill="#93dc80" fill-opacity="1" stroke="none" stroke-width="0" stroke-linejoin="round"/><circle cx="556" cy="143" r="6.5" fill="#a6e493" opacity="0.6"/><circle cx="556" cy="101.5" r="7" fill="url(#gTi)"/><circle cx="533.7" cy="63.9" r="2.4" fill="url(#gF)" stroke="#8282b4" stroke-width="0.9"/><circle cx="550.5" cy="43.3" r="2.4" fill="url(#gF)" stroke="#8282b4" stroke-width="0.9"/><circle cx="565.1" cy="47.2" r="2.4" fill="url(#gF)" stroke="#8282b4" stroke-width="0.9"/><circle cx="578.8" cy="63.4" r="2.4" fill="url(#gF)" stroke="#8282b4" stroke-width="0.9"/><circle cx="561" cy="84" r="2.4" fill="url(#gF)" stroke="#8282b4" stroke-width="0.9"/><circle cx="549.5" cy="82.4" r="2.4" fill="url(#gF)" stroke="#8282b4" stroke-width="0.9"/><circle cx="533.7" cy="140.9" r="2.4" fill="url(#gF)" stroke="#8282b4" stroke-width="0.9"/><circle cx="550.5" cy="120.3" r="2.4" fill="url(#gF)" stroke="#8282b4" stroke-width="0.9"/><circle cx="565.1" cy="124.2" r="2.4" fill="url(#gF)" stroke="#8282b4" stroke-width="0.9"/><circle cx="578.8" cy="140.4" r="2.4" fill="url(#gF)" stroke="#8282b4" stroke-width="0.9"/><circle cx="561" cy="161" r="2.4" fill="url(#gF)" stroke="#8282b4" stroke-width="0.9"/><circle cx="549.5" cy="159.4" r="2.4" fill="url(#gF)" stroke="#8282b4" stroke-width="0.9"/><polygon points="503.5,66.4 503.5,106.4 530.7,91.2" fill="#7cc86a" fill-opacity="1" stroke="none" stroke-width="0" stroke-linejoin="round"/><polygon points="503.5,66.4 534.5,63.9 530.7,91.2" fill="#67b457" fill-opacity="1" stroke="none" stroke-width="0" stroke-linejoin="round"/><polygon points="534.5,63.9 534.5,103.9 530.7,91.2" fill="#478f3f" fill-opacity="1" stroke="none" stroke-width="0" stroke-linejoin="round"/><polygon points="503.5,106.4 534.5,103.9 530.7,91.2" fill="#56a04c" fill-opacity="1" stroke="none" stroke-width="0" stroke-linejoin="round"/><line x1="503.5" y1="66.4" x2="530.7" y2="91.2" stroke="#dfe8ef" stroke-width="0.35" /><line x1="534.5" y1="63.9" x2="530.7" y2="91.2" stroke="#dfe8ef" stroke-width="0.35" /><line x1="534.5" y1="103.9" x2="530.7" y2="91.2" stroke="#dfe8ef" stroke-width="0.35" /><line x1="503.5" y1="106.4" x2="530.7" y2="91.2" stroke="#dfe8ef" stroke-width="0.35" /><circle cx="518.5" cy="87.4" r="7.44" fill="#8fd67e" opacity="0.55"/><circle cx="503.5" cy="66.4" r="2.4" fill="url(#gF)" stroke="#8282b4" stroke-width="0.9"/><circle cx="534.5" cy="63.9" r="2.4" fill="url(#gF)" stroke="#8282b4" stroke-width="0.9"/><circle cx="534.5" cy="103.9" r="2.4" fill="url(#gF)" stroke="#8282b4" stroke-width="0.9"/><circle cx="503.5" cy="106.4" r="2.4" fill="url(#gF)" stroke="#8282b4" stroke-width="0.9"/><circle cx="530.7" cy="91.2" r="2.4" fill="url(#gF)" stroke="#8282b4" stroke-width="0.9"/><polygon points="561.5,69.4 561.5,109.4 588.5,94.4" fill="#7cc86a" fill-opacity="1" stroke="none" stroke-width="0" stroke-linejoin="round"/><polygon points="561.5,69.4 592.5,67.2 588.5,94.4" fill="#67b457" fill-opacity="1" stroke="none" stroke-width="0" stroke-linejoin="round"/><polygon points="592.5,67.2 592.5,107.2 588.5,94.4" fill="#478f3f" fill-opacity="1" stroke="none" stroke-width="0" stroke-linejoin="round"/><polygon points="561.5,109.4 592.5,107.2 588.5,94.4" fill="#56a04c" fill-opacity="1" stroke="none" stroke-width="0" stroke-linejoin="round"/><line x1="561.5" y1="69.4" x2="588.5" y2="94.4" stroke="#dfe8ef" stroke-width="0.35" /><line x1="592.5" y1="67.2" x2="588.5" y2="94.4" stroke="#dfe8ef" stroke-width="0.35" /><line x1="592.5" y1="107.2" x2="588.5" y2="94.4" stroke="#dfe8ef" stroke-width="0.35" /><line x1="561.5" y1="109.4" x2="588.5" y2="94.4" stroke="#dfe8ef" stroke-width="0.35" /><circle cx="576.5" cy="90.4" r="7.44" fill="#8fd67e" opacity="0.55"/><circle cx="561.5" cy="69.4" r="2.4" fill="url(#gF)" stroke="#8282b4" stroke-width="0.9"/><circle cx="592.5" cy="67.2" r="2.4" fill="url(#gF)" stroke="#8282b4" stroke-width="0.9"/><circle cx="592.5" cy="107.2" r="2.4" fill="url(#gF)" stroke="#8282b4" stroke-width="0.9"/><circle cx="561.5" cy="109.4" r="2.4" fill="url(#gF)" stroke="#8282b4" stroke-width="0.9"/><circle cx="588.5" cy="94.4" r="2.4" fill="url(#gF)" stroke="#8282b4" stroke-width="0.9"/><polygon points="503.5,106.4 503.5,146.4 530.7,131.2" fill="#7cc86a" fill-opacity="1" stroke="none" stroke-width="0" stroke-linejoin="round"/><polygon points="503.5,106.4 534.5,103.9 530.7,131.2" fill="#67b457" fill-opacity="1" stroke="none" stroke-width="0" stroke-linejoin="round"/><polygon points="534.5,103.9 534.5,143.9 530.7,131.2" fill="#478f3f" fill-opacity="1" stroke="none" stroke-width="0" stroke-linejoin="round"/><polygon points="503.5,146.4 534.5,143.9 530.7,131.2" fill="#56a04c" fill-opacity="1" stroke="none" stroke-width="0" stroke-linejoin="round"/><line x1="503.5" y1="106.4" x2="530.7" y2="131.2" stroke="#dfe8ef" stroke-width="0.35" /><line x1="534.5" y1="103.9" x2="530.7" y2="131.2" stroke="#dfe8ef" stroke-width="0.35" /><line x1="534.5" y1="143.9" x2="530.7" y2="131.2" stroke="#dfe8ef" stroke-width="0.35" /><line x1="503.5" y1="146.4" x2="530.7" y2="131.2" stroke="#dfe8ef" stroke-width="0.35" /><circle cx="518.5" cy="127.4" r="7.44" fill="#8fd67e" opacity="0.55"/><circle cx="503.5" cy="106.4" r="2.4" fill="url(#gF)" stroke="#8282b4" stroke-width="0.9"/><circle cx="534.5" cy="103.9" r="2.4" fill="url(#gF)" stroke="#8282b4" stroke-width="0.9"/><circle cx="534.5" cy="143.9" r="2.4" fill="url(#gF)" stroke="#8282b4" stroke-width="0.9"/><circle cx="503.5" cy="146.4" r="2.4" fill="url(#gF)" stroke="#8282b4" stroke-width="0.9"/><circle cx="530.7" cy="131.2" r="2.4" fill="url(#gF)" stroke="#8282b4" stroke-width="0.9"/><polygon points="561.5,109.4 561.5,149.4 588.5,134.4" fill="#7cc86a" fill-opacity="1" stroke="none" stroke-width="0" stroke-linejoin="round"/><polygon points="561.5,109.4 592.5,107.2 588.5,134.4" fill="#67b457" fill-opacity="1" stroke="none" stroke-width="0" stroke-linejoin="round"/><polygon points="592.5,107.2 592.5,147.2 588.5,134.4" fill="#478f3f" fill-opacity="1" stroke="none" stroke-width="0" stroke-linejoin="round"/><polygon points="561.5,149.4 592.5,147.2 588.5,134.4" fill="#56a04c" fill-opacity="1" stroke="none" stroke-width="0" stroke-linejoin="round"/><line x1="561.5" y1="109.4" x2="588.5" y2="134.4" stroke="#dfe8ef" stroke-width="0.35" /><line x1="592.5" y1="107.2" x2="588.5" y2="134.4" stroke="#dfe8ef" stroke-width="0.35" /><line x1="592.5" y1="147.2" x2="588.5" y2="134.4" stroke="#dfe8ef" stroke-width="0.35" /><line x1="561.5" y1="149.4" x2="588.5" y2="134.4" stroke="#dfe8ef" stroke-width="0.35" /><circle cx="576.5" cy="130.4" r="7.44" fill="#8fd67e" opacity="0.55"/><circle cx="561.5" cy="109.4" r="2.4" fill="url(#gF)" stroke="#8282b4" stroke-width="0.9"/><circle cx="592.5" cy="107.2" r="2.4" fill="url(#gF)" stroke="#8282b4" stroke-width="0.9"/><circle cx="592.5" cy="147.2" r="2.4" fill="url(#gF)" stroke="#8282b4" stroke-width="0.9"/><circle cx="561.5" cy="149.4" r="2.4" fill="url(#gF)" stroke="#8282b4" stroke-width="0.9"/><circle cx="588.5" cy="134.4" r="2.4" fill="url(#gF)" stroke="#8282b4" stroke-width="0.9"/><circle cx="519.2" cy="47.8" r="7" fill="url(#gTi)"/><circle cx="576.4" cy="50.7" r="7" fill="url(#gTi)"/><circle cx="519.2" cy="161.7" r="7" fill="url(#gTi)"/><circle cx="576.4" cy="164.6" r="7" fill="url(#gTi)"/><circle cx="504.3" cy="31.3" r="2.4" fill="url(#gF)" stroke="#8282b4" stroke-width="0.9"/><circle cx="508.2" cy="44.5" r="2.4" fill="url(#gF)" stroke="#8282b4" stroke-width="0.9"/><circle cx="523.7" cy="22" r="2.4" fill="url(#gF)" stroke="#8282b4" stroke-width="0.9"/><circle cx="527" cy="34.8" r="2.4" fill="url(#gF)" stroke="#8282b4" stroke-width="0.9"/><circle cx="533.8" cy="28.8" r="2.4" fill="url(#gF)" stroke="#8282b4" stroke-width="0.9"/><circle cx="529.9" cy="51.1" r="2.4" fill="url(#gF)" stroke="#8282b4" stroke-width="0.9"/><circle cx="523.7" cy="56.9" r="2.4" fill="url(#gF)" stroke="#8282b4" stroke-width="0.9"/><circle cx="552.8" cy="19.3" r="2.4" fill="url(#gF)" stroke="#8282b4" stroke-width="0.9"/><circle cx="561.5" cy="34.6" r="2.4" fill="url(#gF)" stroke="#8282b4" stroke-width="0.9"/><circle cx="549.3" cy="42" r="2.4" fill="url(#gF)" stroke="#8282b4" stroke-width="0.9"/><circle cx="565.3" cy="47.4" r="2.4" fill="url(#gF)" stroke="#8282b4" stroke-width="0.9"/><circle cx="580.7" cy="25.1" r="2.4" fill="url(#gF)" stroke="#8282b4" stroke-width="0.9"/><circle cx="584.5" cy="37.7" r="2.4" fill="url(#gF)" stroke="#8282b4" stroke-width="0.9"/><circle cx="590.5" cy="31.9" r="2.4" fill="url(#gF)" stroke="#8282b4" stroke-width="0.9"/><circle cx="587" cy="54.6" r="2.4" fill="url(#gF)" stroke="#8282b4" stroke-width="0.9"/><circle cx="605.9" cy="45.3" r="2.4" fill="url(#gF)" stroke="#8282b4" stroke-width="0.9"/><circle cx="610" cy="22.6" r="2.4" fill="url(#gF)" stroke="#8282b4" stroke-width="0.9"/><circle cx="580.7" cy="60.4" r="2.4" fill="url(#gF)" stroke="#8282b4" stroke-width="0.9"/><circle cx="504.3" cy="145.9" r="2.4" fill="url(#gF)" stroke="#8282b4" stroke-width="0.9"/><circle cx="527.6" cy="149.4" r="2.4" fill="url(#gF)" stroke="#8282b4" stroke-width="0.9"/><circle cx="533.8" cy="143.6" r="2.4" fill="url(#gF)" stroke="#8282b4" stroke-width="0.9"/><circle cx="508.2" cy="158.7" r="2.4" fill="url(#gF)" stroke="#8282b4" stroke-width="0.9"/><circle cx="529.9" cy="165.9" r="2.4" fill="url(#gF)" stroke="#8282b4" stroke-width="0.9"/><circle cx="523.7" cy="171.7" r="2.4" fill="url(#gF)" stroke="#8282b4" stroke-width="0.9"/><circle cx="548.9" cy="156.7" r="2.4" fill="url(#gF)" stroke="#8282b4" stroke-width="0.9"/><circle cx="552.8" cy="168.8" r="2.4" fill="url(#gF)" stroke="#8282b4" stroke-width="0.9"/><circle cx="565.2" cy="161.4" r="2.4" fill="url(#gF)" stroke="#8282b4" stroke-width="0.9"/><circle cx="561.5" cy="149" r="2.4" fill="url(#gF)" stroke="#8282b4" stroke-width="0.9"/><circle cx="584.1" cy="152.3" r="2.4" fill="url(#gF)" stroke="#8282b4" stroke-width="0.9"/><circle cx="590.5" cy="146.5" r="2.4" fill="url(#gF)" stroke="#8282b4" stroke-width="0.9"/><circle cx="587" cy="168.8" r="2.4" fill="url(#gF)" stroke="#8282b4" stroke-width="0.9"/><circle cx="580.3" cy="175" r="2.4" fill="url(#gF)" stroke="#8282b4" stroke-width="0.9"/><circle cx="605.9" cy="159.5" r="2.4" fill="url(#gF)" stroke="#8282b4" stroke-width="0.9"/><circle cx="610" cy="172.2" r="2.4" fill="url(#gF)" stroke="#8282b4" stroke-width="0.9"/><circle cx="610" cy="137.4" r="2.4" fill="url(#gF)" stroke="#8282b4" stroke-width="0.9"/><circle cx="504.3" cy="181.4" r="2.4" fill="url(#gF)" stroke="#8282b4" stroke-width="0.9"/><circle cx="533.8" cy="178.4" r="2.4" fill="url(#gF)" stroke="#8282b4" stroke-width="0.9"/><circle cx="561.5" cy="184.3" r="2.4" fill="url(#gF)" stroke="#8282b4" stroke-width="0.9"/><circle cx="590.5" cy="181.9" r="2.4" fill="url(#gF)" stroke="#8282b4" stroke-width="0.9"/><line x1="555.3" y1="232" x2="555.3" y2="215.5" stroke="#4a5878" stroke-width="1.0" /><path d="M553.4,216.8 L555.3,212.6 L557.2,216.8 Z" fill="#4a5878"/><line x1="555.3" y1="232" x2="572.5" y2="233.1" stroke="#4a5878" stroke-width="1.0" /><path d="M571.6,231.1 L575.9,233.3 L571.4,235.1 Z" fill="#4a5878"/><line x1="555.3" y1="232" x2="544.8" y2="237.6" stroke="#4a5878" stroke-width="1.0" /><path d="M546,235.3 L542,239 L547.6,238.3 Z" fill="#4a5878"/><text x="555.5" y="212.4" font-size="10" fill="#1c1c1c" text-anchor="middle" font-weight="normal" >c</text><text x="579.8" y="237.8" font-size="10" fill="#1c1c1c" text-anchor="start" font-weight="normal" font-style="italic">b</text><text x="534.3" y="244.4" font-size="10" fill="#1c1c1c" text-anchor="start" font-weight="normal" font-style="italic">a</text></g>
<g id="pde"><text x="-0.5" y="265.5" font-size="14" font-weight="bold" fill="#000" stroke="#000" stroke-width="0.5">d</text><line x1="45.7" y1="261.6" x2="311.4" y2="261.6" stroke="#555" stroke-width="0.9" /><line x1="311.4" y1="261.6" x2="311.4" y2="432.4" stroke="#555" stroke-width="0.9" /><line x1="45.7" y1="261.6" x2="45.7" y2="433.4" stroke="#555" stroke-width="0.9" /><line x1="45.7" y1="290.2" x2="311.4" y2="290.2" stroke="#444" stroke-width="0.9" /><line x1="45.7" y1="318.5" x2="311.4" y2="318.5" stroke="#666" stroke-width="1.3" /><line x1="45.2" y1="432.4" x2="311.9" y2="432.4" stroke="#a8a8a8" stroke-width="1.5" /><line x1="45.7" y1="432.4" x2="45.7" y2="435.4" stroke="#888" stroke-width="0.8" /><text transform="translate(45.7 447.6) scale(1.030 1)" x="0" y="0" font-size="8.3" fill="#333" text-anchor="middle" font-weight="normal" >10</text><line x1="98.7" y1="432.4" x2="98.7" y2="435.4" stroke="#888" stroke-width="0.8" /><text transform="translate(98.7 447.6) scale(1.030 1)" x="0" y="0" font-size="8.3" fill="#333" text-anchor="middle" font-weight="normal" >20</text><line x1="151.7" y1="432.4" x2="151.7" y2="435.4" stroke="#888" stroke-width="0.8" /><text transform="translate(151.7 447.6) scale(1.030 1)" x="0" y="0" font-size="8.3" fill="#333" text-anchor="middle" font-weight="normal" >30</text><line x1="204.7" y1="432.4" x2="204.7" y2="435.4" stroke="#888" stroke-width="0.8" /><text transform="translate(204.7 447.6) scale(1.030 1)" x="0" y="0" font-size="8.3" fill="#333" text-anchor="middle" font-weight="normal" >40</text><line x1="257.7" y1="432.4" x2="257.7" y2="435.4" stroke="#888" stroke-width="0.8" /><text transform="translate(257.7 447.6) scale(1.030 1)" x="0" y="0" font-size="8.3" fill="#333" text-anchor="middle" font-weight="normal" >50</text><line x1="310.7" y1="432.4" x2="310.7" y2="435.4" stroke="#888" stroke-width="0.8" /><text transform="translate(310.7 447.6) scale(1.030 1)" x="0" y="0" font-size="8.3" fill="#333" text-anchor="middle" font-weight="normal" >60</text><text x="153.8" y="463.6" font-size="9.5" fill="#1c1c1c" text-anchor="start" font-weight="normal" >2<tspan font-style="italic">θ</tspan> (degree)</text><text transform="translate(39.52 347) rotate(-90) scale(1.038 1)" x="0" y="0" font-size="9.5" fill="#1c1c1c" text-anchor="middle">Intensity (a.u.)</text><text x="50.7" y="274.9" font-size="9.6" fill="#1c1c1c" text-anchor="start" font-weight="normal" >LiCl</text><text transform="translate(50.7 283.8) scale(1.044 1)" x="0" y="0" font-size="6.5" fill="#333" text-anchor="start" font-weight="normal" >(ICSD 26909)</text><text transform="translate(50.5 303.8) scale(0.984 1)" x="0" y="0" font-size="9.6" fill="#1c1c1c" text-anchor="start" font-weight="normal" >Li<tspan dy="2.4" font-size="0.72em">2</tspan><tspan dy="-2.4">​</tspan>TiF<tspan dy="2.4" font-size="0.72em">6</tspan><tspan dy="-2.4">​</tspan></text><text transform="translate(50.7 313.1) scale(1.022 1)" x="0" y="0" font-size="6.5" fill="#333" text-anchor="start" font-weight="normal" >(ICSD 256029)</text><line x1="153.2" y1="265.8" x2="153.2" y2="289.8" stroke="#ee3333" stroke-width="1.0" /><line x1="178.7" y1="270.2" x2="178.7" y2="289.8" stroke="#ee3333" stroke-width="1.0" /><line x1="260.2" y1="278.5" x2="260.2" y2="289.8" stroke="#ee3333" stroke-width="1.0" /><line x1="98.4" y1="309" x2="98.4" y2="318" stroke="#2e9a2e" stroke-width="1.0" /><line x1="107.8" y1="294.6" x2="107.8" y2="318" stroke="#2e9a2e" stroke-width="1.0" /><line x1="137.5" y1="305.8" x2="137.5" y2="318" stroke="#2e9a2e" stroke-width="1.0" /><line x1="173.1" y1="313.1" x2="173.1" y2="318" stroke="#2e9a2e" stroke-width="1.0" /><line x1="183.4" y1="316.6" x2="183.4" y2="318" stroke="#2e9a2e" stroke-width="1.0" /><line x1="199.5" y1="316.6" x2="199.5" y2="318" stroke="#2e9a2e" stroke-width="1.0" /><line x1="210.7" y1="301.9" x2="210.7" y2="318" stroke="#2e9a2e" stroke-width="1.0" /><line x1="225.3" y1="313" x2="225.3" y2="318" stroke="#2e9a2e" stroke-width="1.0" /><line x1="227.2" y1="316.4" x2="227.2" y2="318" stroke="#2e9a2e" stroke-width="1.0" /><line x1="231.8" y1="315.1" x2="231.8" y2="318" stroke="#2e9a2e" stroke-width="1.0" /><line x1="255.8" y1="316.6" x2="255.8" y2="318" stroke="#2e9a2e" stroke-width="1.0" /><line x1="279.8" y1="309.2" x2="279.8" y2="318" stroke="#2e9a2e" stroke-width="1.0" /><line x1="286.6" y1="316.6" x2="286.6" y2="318" stroke="#2e9a2e" stroke-width="1.0" /><line x1="291.9" y1="314.2" x2="291.9" y2="318" stroke="#2e9a2e" stroke-width="1.0" /><line x1="298.3" y1="316.6" x2="298.3" y2="318" stroke="#2e9a2e" stroke-width="1.0" /><polyline points="45.7,338.39 46.05,338.48 46.4,340.46 46.75,339.42 47.1,341.29 47.45,341.39 47.8,341.11 48.15,342.95 48.5,342.21 48.85,343.9 49.2,343.45 49.55,344.09 49.9,345.6 50.25,347.13 50.6,345.5 50.95,346.11 51.3,347.57 51.65,348.8 52,348.1 52.35,347.92 52.7,349.88 53.05,347.61 53.4,350.21 53.75,348.95 54.1,348.88 54.45,349.14 54.8,350.01 55.15,351.76 55.5,350.31 55.85,351.77 56.2,352.26 56.55,351.85 56.9,352.67 57.25,351.65 57.6,351.97 57.95,352.71 58.3,354.32 58.65,353.78 59,353.63 59.35,354.56 59.7,354.35 60.05,354.09 60.4,355.64 60.75,355.54 61.1,354.43 61.45,355.52 61.8,355.55 62.15,356.69 62.5,356.45 62.85,355.38 63.2,357.48 63.55,355.23 63.9,356.24 64.25,357.35 64.6,355.82 64.95,356.93 65.3,355.84 65.65,357.77 66,358.2 66.35,357.77 66.7,358.72 67.05,357.25 67.4,358.42 67.75,358.24 68.1,358.3 68.45,358.06 68.8,359.23 69.15,359.63 69.5,358.41 69.85,359.05 70.2,357.46 70.55,359.36 70.9,359.31 71.25,360.38 71.6,360 71.95,358.6 72.3,358.98 72.65,359.88 73,358.17 73.35,359.5 73.7,358.78 74.05,358.74 74.4,358.68 74.75,360.77 75.1,359.08 75.45,359.51 75.8,360.02 76.15,361.46 76.5,359.35 76.85,360.52 77.2,360.93 77.55,362 77.9,361.96 78.25,362.21 78.6,360.71 78.95,361.23 79.3,361.2 79.65,362.81 80,363.15 80.35,361.02 80.7,361.22 81.05,361.51 81.4,361.65 81.75,362.49 82.1,362.91 82.45,362.13 82.8,361.53 83.15,362.83 83.5,362.82 83.85,363.5 84.2,364.72 84.55,364.11 84.9,363.75 85.25,364.16 85.6,364.46 85.95,362.84 86.3,365.36 86.65,365.17 87,365.58 87.35,365.51 87.7,364.52 88.05,364.68 88.4,363.99 88.75,365.62 89.1,364.16 89.45,364.31 89.8,364.84 90.15,364.84 90.5,365.46 90.85,364.78 91.2,364.75 91.55,365.29 91.9,365.25 92.25,366.08 92.6,365.22 92.95,367.66 93.3,366.98 93.65,365.71 94,365.98 94.35,366.18 94.7,366.08 95.05,365.85 95.4,365.87 95.75,365.03 96.1,363.06 96.45,360.73 96.8,357.14 97.15,353.18 97.5,350.07 97.85,349.84 98.2,353.55 98.55,357.26 98.9,360.78 99.25,364.23 99.6,365.78 99.95,366.73 100.3,367.78 100.65,367.81 101,368.48 101.35,368.99 101.7,368.97 102.05,368.84 102.4,368.43 102.75,368.38 103.1,367.99 103.45,368.11 103.8,367.36 104.15,366.66 104.5,364.86 104.85,362.44 105.2,359.28 105.55,354.04 105.9,346.5 106.25,337.49 106.6,330 106.95,329.37 107.3,335.93 107.65,345.33 108,353.05 108.35,358.59 108.7,362.58 109.05,365.41 109.4,367.09 109.75,368.54 110.1,369.49 110.45,369.59 110.8,370.36 111.15,370.69 111.5,370.9 111.85,370.63 112.2,370.67 112.55,370.81 112.9,370.9 113.25,371.01 113.6,371.43 113.95,371.73 114.3,371.75 114.65,371.52 115,371.71 115.35,371.88 115.7,371.35 116.05,371.85 116.4,372.09 116.75,372.02 117.1,372.02 117.45,371.84 117.8,371.62 118.15,372.14 118.5,371.8 118.85,372.2 119.2,372.35 119.55,371.91 119.9,371.94 120.25,372.39 120.6,372.23 120.95,371.81 121.3,371.79 121.65,371.82 122,372.44 122.35,372.37 122.7,371.86 123.05,372.41 123.4,372.55 123.75,372.3 124.1,372.07 124.45,372.23 124.8,371.91 125.15,371.82 125.5,372.59 125.85,372.34 126.2,372.25 126.55,372.58 126.9,372.18 127.25,372.53 127.6,372.49 127.95,372 128.3,372.02 128.65,372.05 129,372 129.35,372.26 129.7,371.98 130.05,372.08 130.4,371.81 130.75,372.39 131.1,371.89 131.45,371.91 131.8,371.92 132.15,372.07 132.5,371.55 132.85,371.76 133.2,371.18 133.55,370.84 133.9,370.27 134.25,368.99 134.6,367.94 134.95,365.64 135.3,362.49 135.65,359.16 136,354.38 136.35,352.15 136.7,353.81 137.05,357.74 137.4,361.73 137.75,365.19 138.1,367.57 138.45,369.33 138.8,369.8 139.15,370.81 139.5,370.98 139.85,371.29 140.2,371.9 140.55,371.85 140.9,372.01 141.25,372.27 141.6,372.48 141.95,372.17 142.3,372.37 142.65,372.33 143,372.38 143.35,372.56 143.7,372.4 144.05,372.5 144.4,372.48 144.75,372.87 145.1,372.7 145.45,372.86 145.8,372.93 146.15,372.39 146.5,372.65 146.85,372.97 147.2,372.89 147.55,372.34 147.9,372.33 148.25,372.59 148.6,372.3 148.95,372.44 149.3,372.3 149.65,372.77 150,372.84 150.35,372.9 150.7,372.26 151.05,372.62 151.4,372.44 151.75,371.82 152.1,372.14 152.45,371.89 152.8,371.09 153.15,371.75 153.5,371.59 153.85,371.98 154.2,372.64 154.55,372.7 154.9,372.29 155.25,372.59 155.6,372.72 155.95,372.61 156.3,372.52 156.65,372.64 157,372.98 157.35,372.44 157.7,372.87 158.05,372.79 158.4,372.47 158.75,372.72 159.1,372.97 159.45,372.88 159.8,372.53 160.15,373.27 160.5,373.12 160.85,373.27 161.2,372.58 161.55,372.71 161.9,372.53 162.25,373.13 162.6,372.72 162.95,372.61 163.3,372.84 163.65,373.23 164,373.16 164.35,372.71 164.7,372.61 165.05,373.22 165.4,372.94 165.75,373.03 166.1,372.53 166.45,372.49 166.8,372.97 167.15,372.73 167.5,372.42 167.85,373.07 168.2,372.77 168.55,372.82 168.9,372.12 169.25,372.56 169.6,371.64 169.95,371.82 170.3,370.8 170.65,369.71 171,368.53 171.35,367.31 171.7,365.77 172.05,365.97 172.4,367.65 172.75,368.92 173.1,370.02 173.45,370.94 173.8,371.44 174.15,371.94 174.5,372.27 174.85,372.42 175.2,372.89 175.55,372.59 175.9,372.82 176.25,372.61 176.6,372.78 176.95,372.54 177.3,372.75 177.65,372.58 178,373.16 178.35,373.03 178.7,372.74 179.05,372.96 179.4,373.31 179.75,372.62 180.1,373.13 180.45,372.72 180.8,372.62 181.15,372.67 181.5,372.02 181.85,371.82 182.2,371.82 182.55,372.21 182.9,372.01 183.25,372.71 183.6,372.84 183.95,372.96 184.3,372.88 184.65,372.91 185,372.73 185.35,372.82 185.7,372.8 186.05,373.35 186.4,372.98 186.75,372.92 187.1,372.87 187.45,373.48 187.8,373.51 188.15,373.36 188.5,373.05 188.85,373.03 189.2,373.07 189.55,373.21 189.9,372.97 190.25,373.21 190.6,373.06 190.95,373.63 191.3,373.64 191.65,373.3 192,373.06 192.35,373.63 192.7,373.11 193.05,373.14 193.4,372.86 193.75,373.16 194.1,373.23 194.45,373.25 194.8,373 195.15,373.23 195.5,372.82 195.85,373 196.2,372.83 196.55,373.03 196.9,372.67 197.25,372.54 197.6,372.6 197.95,372.32 198.3,372.34 198.65,372.1 199,372.28 199.35,372.41 199.7,372.7 200.05,373.02 200.4,372.76 200.75,372.79 201.1,373.36 201.45,372.7 201.8,373.15 202.15,373.06 202.5,372.55 202.85,373.14 203.2,373.13 203.55,372.84 203.9,372.84 204.25,372.8 204.6,372.13 204.95,372.27 205.3,372.04 205.65,372.02 206,371.6 206.35,371.04 206.7,369.96 207.05,368.8 207.4,366.45 207.75,363.2 208.1,358.24 208.45,352.28 208.8,346.71 209.15,344.87 209.5,348.11 209.85,354.66 210.2,359.95 210.55,364.19 210.9,367.1 211.25,369.08 211.6,370.15 211.95,370.55 212.3,371.69 212.65,372.01 213,372.07 213.35,372.29 213.7,372.54 214.05,372.19 214.4,372.82 214.75,372.51 215.1,372.43 215.45,372.64 215.8,373.05 216.15,372.66 216.5,373.11 216.85,373.32 217.2,372.95 217.55,372.86 217.9,372.94 218.25,373.09 218.6,373.14 218.95,372.99 219.3,372.97 219.65,372.46 220,372.44 220.35,372.4 220.7,372.6 221.05,371.95 221.4,371.69 221.75,370.51 222.1,369.48 222.45,368.2 222.8,366.83 223.15,365.56 223.5,365.66 223.85,366.75 224.2,368.6 224.55,369.94 224.9,370.94 225.25,371.34 225.6,372.38 225.95,372.07 226.3,372.83 226.65,372.86 227,372.12 227.35,372.4 227.7,372.51 228.05,372.32 228.4,371.41 228.75,370.52 229.1,369.47 229.45,368.91 229.8,367.56 230.15,368.11 230.5,368.81 230.85,370.27 231.2,371.54 231.55,371.56 231.9,372.56 232.25,372.61 232.6,373.1 232.95,373.08 233.3,372.78 233.65,373.38 234,373.1 234.35,372.76 234.7,372.78 235.05,373.19 235.4,373.18 235.75,373.08 236.1,372.96 236.45,373.14 236.8,373.13 237.15,373.55 237.5,372.89 237.85,373.5 238.2,373.58 238.55,373.01 238.9,373.66 239.25,373.49 239.6,373.64 239.95,373.16 240.3,373.23 240.65,373.25 241,373.73 241.35,373.41 241.7,373.23 242.05,373.28 242.4,373.16 242.75,372.98 243.1,373.02 243.45,373.61 243.8,373.17 244.15,373.69 244.5,373.14 244.85,373.16 245.2,373.35 245.55,373.09 245.9,373.24 246.25,373.7 246.6,373.64 246.95,373.58 247.3,373.44 247.65,373.66 248,373.68 248.35,373.36 248.7,373.49 249.05,372.95 249.4,373.49 249.75,373.25 250.1,373.48 250.45,373.38 250.8,373.08 251.15,372.86 251.5,373.52 251.85,372.83 252.2,373.01 252.55,372.76 252.9,372.51 253.25,372.55 253.6,372.34 253.95,371.36 254.3,371.48 254.65,371.39 255,372.01 255.35,372.27 255.7,372.4 256.05,372.61 256.4,372.79 256.75,373.44 257.1,373.17 257.45,372.99 257.8,373.56 258.15,373.65 258.5,373.23 258.85,372.99 259.2,373.04 259.55,372.96 259.9,373.17 260.25,372.97 260.6,373.08 260.95,373.09 261.3,373.34 261.65,373.59 262,373.47 262.35,373.2 262.7,373.2 263.05,373.28 263.4,373.15 263.75,373.12 264.1,372.89 264.45,373.05 264.8,373.6 265.15,372.92 265.5,373.21 265.85,373.3 266.2,373.48 266.55,372.95 266.9,372.99 267.25,372.96 267.6,373.07 267.95,373.09 268.3,373.48 268.65,373.38 269,373.39 269.35,372.69 269.7,372.68 270.05,373.2 270.4,373.33 270.75,372.96 271.1,373.03 271.45,372.53 271.8,372.8 272.15,373.19 272.5,373.05 272.85,373.02 273.2,373.03 273.55,372.36 273.9,372.13 274.25,372.01 274.6,372.08 274.95,371.87 275.3,371.55 275.65,370.55 276,369.24 276.35,367.54 276.7,364.88 277.05,362.24 277.4,360 277.75,361.14 278.1,363.11 278.45,366.3 278.8,368.22 279.15,369.48 279.5,370.36 279.85,371.12 280.2,371.84 280.55,372.15 280.9,371.84 281.25,371.92 281.6,372.34 281.95,372.41 282.3,372.24 282.65,372.06 283,372.25 283.35,371.63 283.7,371.71 284.05,371.78 284.4,372.27 284.75,372.17 285.1,372.48 285.45,372.23 285.8,372.06 286.15,372.04 286.5,372.52 286.85,372.13 287.2,371.5 287.55,370.78 287.9,370.41 288.25,369.52 288.6,368.03 288.95,366.73 289.3,366.79 289.65,367.87 290,368.62 290.35,369.62 290.7,370.72 291.05,371.38 291.4,371.97 291.75,371.81 292.1,372.43 292.45,372.46 292.8,372.3 293.15,372.06 293.5,372.62 293.85,371.98 294.2,372.2 294.55,371.43 294.9,371 295.25,370.92 295.6,370.11 295.95,370.61 296.3,370.65 296.65,370.94 297,371.42 297.35,371.91 297.7,372.34 298.05,372.72 298.4,372.17 298.75,372.43 299.1,372.32 299.45,372.96 299.8,372.31 300.15,372.25 300.5,372.27 300.85,372.54 301.2,372.95 301.55,372.95 301.9,372.83 302.25,373.04 302.6,372.99 302.95,372.51 303.3,372.39 303.65,372.99 304,372.84 304.35,372.27 304.7,372.77 305.05,372.54 305.4,372.53 305.75,372.49 306.1,372.36 306.45,372.23 306.8,372.44 307.15,372.5 307.5,372.98 307.85,372.31 308.2,372.98 308.55,372.37 308.9,372.48 309.25,372.85 309.6,372.85 309.95,372.53 310.3,372.22 310.65,372.55 311,372.47" fill="none" stroke="#2020f4" stroke-width="1.3" stroke-linejoin="round" stroke-linecap="round" /><polyline points="45.7,390.42 46.05,388.67 46.4,389.79 46.75,392.07 47.1,389.87 47.45,391.66 47.8,393.51 48.15,393.94 48.5,392.19 48.85,392.75 49.2,393.27 49.55,396.34 49.9,394.54 50.25,396.44 50.6,397.25 50.95,395.79 51.3,395.9 51.65,398.42 52,397.66 52.35,396.85 52.7,398.63 53.05,397.68 53.4,397.88 53.75,397.32 54.1,399.94 54.45,400.68 54.8,399.99 55.15,401.2 55.5,398.48 55.85,399.37 56.2,400.36 56.55,402.12 56.9,402.33 57.25,400.74 57.6,400.52 57.95,401.32 58.3,401.67 58.65,403.2 59,400.95 59.35,403.07 59.7,403.01 60.05,403.41 60.4,403.39 60.75,403 61.1,402.24 61.45,402.36 61.8,402.63 62.15,404.11 62.5,402 62.85,402.5 63.2,404.31 63.55,402.73 63.9,402.18 64.25,402.11 64.6,403.8 64.95,403.11 65.3,405.24 65.65,404.96 66,405.33 66.35,403.05 66.7,402.5 67.05,402.57 67.4,403.89 67.75,404.6 68.1,403.79 68.45,403.12 68.8,403.71 69.15,404.37 69.5,404.56 69.85,404.8 70.2,405.13 70.55,404.56 70.9,402.83 71.25,405.14 71.6,403.4 71.95,404.28 72.3,403.67 72.65,404.85 73,403.14 73.35,403.3 73.7,403.31 74.05,403.02 74.4,405.39 74.75,404.46 75.1,403.7 75.45,403.97 75.8,405.92 76.15,404.42 76.5,403.58 76.85,405.47 77.2,405.02 77.55,406.15 77.9,403.35 78.25,404.59 78.6,405.74 78.95,405.85 79.3,406.13 79.65,403.38 80,404.24 80.35,403.77 80.7,404.08 81.05,406.68 81.4,405.52 81.75,406.72 82.1,405.03 82.45,406.7 82.8,405.45 83.15,404.93 83.5,406.68 83.85,407.3 84.2,404.7 84.55,406.36 84.9,406.52 85.25,405.32 85.6,405.89 85.95,405.32 86.3,405.67 86.65,405.99 87,407.25 87.35,407.57 87.7,406.29 88.05,405.83 88.4,406.99 88.75,408.26 89.1,406.83 89.45,407.38 89.8,407.17 90.15,409.23 90.5,408.64 90.85,407.29 91.2,407.6 91.55,408.73 91.9,409.4 92.25,409.85 92.6,408.25 92.95,408.61 93.3,410.42 93.65,409.58 94,409.2 94.35,409.22 94.7,411.1 95.05,409.19 95.4,408.72 95.75,407.32 96.1,405.36 96.45,402.72 96.8,398.87 97.15,394.29 97.5,392.43 97.85,395.29 98.2,399.63 98.55,404.09 98.9,408.46 99.25,410.74 99.6,412.94 99.95,413.92 100.3,415.11 100.65,415.33 101,415.5 101.35,415.7 101.7,416.36 102.05,416.6 102.4,416.91 102.75,416.27 103.1,416.58 103.45,416.05 103.8,415.57 104.15,414.27 104.5,412.68 104.85,410.1 105.2,406.16 105.55,399.38 105.9,391.7 106.25,383.72 106.6,380.04 106.95,383.57 107.3,392.08 107.65,401.05 108,407.55 108.35,411.7 108.7,414.41 109.05,417.1 109.4,417.97 109.75,419.27 110.1,419.68 110.45,420.33 110.8,420.19 111.15,421.02 111.5,420.86 111.85,421.25 112.2,421.82 112.55,422.01 112.9,421.68 113.25,421.87 113.6,422.18 113.95,422.42 114.3,422.46 114.65,422.39 115,422.62 115.35,423.12 115.7,423.38 116.05,422.82 116.4,423.35 116.75,423.62 117.1,423.16 117.45,423.91 117.8,423.39 118.15,423.83 118.5,423.85 118.85,423.96 119.2,423.75 119.55,423.89 119.9,424.07 120.25,424 120.6,424.23 120.95,424.11 121.3,424.14 121.65,423.86 122,424.38 122.35,424.32 122.7,424.16 123.05,424.62 123.4,424.67 123.75,424.46 124.1,424.27 124.45,424.55 124.8,424.29 125.15,424.34 125.5,424.62 125.85,424.39 126.2,424.7 126.55,424.79 126.9,424.44 127.25,424.95 127.6,424.53 127.95,425.07 128.3,425.13 128.65,424.94 129,424.58 129.35,424.95 129.7,424.86 130.05,425.31 130.4,424.65 130.75,425.2 131.1,425.28 131.45,425.01 131.8,424.98 132.15,424.37 132.5,424.83 132.85,424.19 133.2,424.19 133.55,423.57 133.9,422.03 134.25,421.05 134.6,418.92 134.95,415.03 135.3,411.11 135.65,407.16 136,404.68 136.35,407.33 136.7,411.17 137.05,415.81 137.4,418.53 137.75,421.13 138.1,423 138.45,423.44 138.8,424.13 139.15,424.75 139.5,424.91 139.85,424.92 140.2,425.22 140.55,425.35 140.9,426.1 141.25,426 141.6,426.27 141.95,425.77 142.3,426.34 142.65,425.87 143,426.27 143.35,426.41 143.7,426.24 144.05,426.71 144.4,426.5 144.75,426.57 145.1,426.86 145.45,426.28 145.8,427.03 146.15,426.78 146.5,426.63 146.85,426.99 147.2,426.6 147.55,427.22 147.9,426.93 148.25,426.79 148.6,427.15 148.95,426.93 149.3,426.75 149.65,427.23 150,426.71 150.35,427.34 150.7,426.9 151.05,427.22 151.4,427.51 151.75,427.21 152.1,427.28 152.45,427.01 152.8,426.78 153.15,426.81 153.5,426.92 153.85,427.3 154.2,427.16 154.55,427.24 154.9,427.56 155.25,426.96 155.6,427.04 155.95,427.39 156.3,426.9 156.65,426.89 157,427.19 157.35,427 157.7,427.21 158.05,427.11 158.4,427.41 158.75,427.42 159.1,427.12 159.45,427.46 159.8,427.35 160.15,427.09 160.5,427.74 160.85,427.19 161.2,427.12 161.55,427.09 161.9,427.53 162.25,427.72 162.6,427.65 162.95,427.35 163.3,427.25 163.65,427.05 164,427.56 164.35,427.49 164.7,427.32 165.05,427.55 165.4,427.39 165.75,427.78 166.1,427.6 166.45,427.2 166.8,427.7 167.15,426.99 167.5,427.34 167.85,427.19 168.2,426.99 168.55,426.75 168.9,427.17 169.25,426.32 169.6,426.36 169.95,426.07 170.3,424.54 170.65,423.34 171,422.12 171.35,420.63 171.7,420.42 172.05,421.64 172.4,422.72 172.75,424.24 173.1,425.29 173.45,425.83 173.8,426.98 174.15,427.21 174.5,427.36 174.85,426.92 175.2,427.69 175.55,427.68 175.9,427.51 176.25,427.78 176.6,427.58 176.95,427.43 177.3,427.36 177.65,427.47 178,427.33 178.35,427.57 178.7,427.9 179.05,427.84 179.4,427.93 179.75,427.77 180.1,427.31 180.45,427.38 180.8,427.03 181.15,426.94 181.5,426.24 181.85,425.53 182.2,425.61 182.55,426.12 182.9,426.04 183.25,427.08 183.6,426.79 183.95,427.26 184.3,427.44 184.65,427.97 185,428.21 185.35,428.11 185.7,427.82 186.05,428.29 186.4,427.88 186.75,427.83 187.1,428.39 187.45,428.18 187.8,428.25 188.15,428.24 188.5,428.51 188.85,428.11 189.2,428.42 189.55,428.31 189.9,428.45 190.25,428.12 190.6,428.36 190.95,428.25 191.3,428.04 191.65,427.97 192,428.3 192.35,427.87 192.7,428.54 193.05,427.93 193.4,427.83 193.75,427.89 194.1,428.54 194.45,428.06 194.8,427.87 195.15,427.75 195.5,427.69 195.85,428.11 196.2,427.9 196.55,427.72 196.9,427.46 197.25,426.62 197.6,426.89 197.95,426.85 198.3,427.52 198.65,427.82 199,428.1 199.35,427.6 199.7,428.34 200.05,428.43 200.4,428.48 200.75,427.81 201.1,427.88 201.45,427.79 201.8,427.7 202.15,428.31 202.5,428.24 202.85,428.05 203.2,428.14 203.55,427.9 203.9,427.53 204.25,427.27 204.6,427.12 204.95,427.47 205.3,426.8 205.65,426.59 206,426.25 206.35,425.31 206.7,424.54 207.05,423.06 207.4,421.07 207.75,417.3 208.1,412.36 208.45,406.66 208.8,400.25 209.15,398.36 209.5,401.86 209.85,407.77 210.2,413.97 210.55,418.47 210.9,421.86 211.25,423.58 211.6,425.19 211.95,425.89 212.3,426.18 212.65,427.07 213,426.73 213.35,427.52 213.7,427.17 214.05,427.16 214.4,427.42 214.75,427.95 215.1,428.19 215.45,427.47 215.8,427.9 216.15,427.93 216.5,428.2 216.85,427.72 217.2,427.98 217.55,427.86 217.9,428.24 218.25,427.77 218.6,428.29 218.95,427.71 219.3,427.6 219.65,427.9 220,427.61 220.35,427.1 220.7,427.21 221.05,426.26 221.4,426.05 221.75,424.84 222.1,423.34 222.45,421.32 222.8,419.51 223.15,419.41 223.5,420.84 223.85,423.13 224.2,424.11 224.55,425.93 224.9,426.04 225.25,426.69 225.6,427.03 225.95,427.71 226.3,427.45 226.65,427.34 227,427.63 227.35,426.88 227.7,426.65 228.05,426.06 228.4,425.3 228.75,424.11 229.1,422.86 229.45,422.21 229.8,422.94 230.15,424.07 230.5,425.79 230.85,426.54 231.2,427.23 231.55,427.19 231.9,427.67 232.25,428.11 232.6,428.07 232.95,427.79 233.3,428.12 233.65,428.5 234,428.02 234.35,428.01 234.7,428.13 235.05,428.47 235.4,428.6 235.75,428.06 236.1,428.08 236.45,428.16 236.8,428.23 237.15,428.4 237.5,428.12 237.85,428.26 238.2,428.15 238.55,428.79 238.9,428.59 239.25,428.1 239.6,428.79 239.95,428.1 240.3,428.33 240.65,428.82 241,428.67 241.35,428.62 241.7,428.38 242.05,428.19 242.4,428.55 242.75,428.12 243.1,428.2 243.45,428.35 243.8,428.07 244.15,428.36 244.5,428.67 244.85,428.6 245.2,428.44 245.55,428.55 245.9,428.41 246.25,428.15 246.6,428.52 246.95,428.36 247.3,428.63 247.65,428.76 248,428.37 248.35,428.49 248.7,428.62 249.05,428.36 249.4,428.2 249.75,428.58 250.1,428.7 250.45,428.61 250.8,428.53 251.15,428.63 251.5,428.47 251.85,428.39 252.2,428.17 252.55,427.95 252.9,428.04 253.25,427.38 253.6,427.34 253.95,427.32 254.3,427.12 254.65,427.2 255,427.2 255.35,427.64 255.7,427.89 256.05,428.19 256.4,428.13 256.75,428.41 257.1,428.65 257.45,428.08 257.8,428.48 258.15,428.59 258.5,428.29 258.85,428.38 259.2,428.77 259.55,428.02 259.9,428.43 260.25,428.12 260.6,428.61 260.95,428.74 261.3,428.39 261.65,428.05 262,428.43 262.35,428.39 262.7,428.53 263.05,428.35 263.4,428.45 263.75,428.59 264.1,428.34 264.45,428.24 264.8,428.66 265.15,428.06 265.5,428.43 265.85,428.18 266.2,428.47 266.55,427.94 266.9,428.62 267.25,428.1 267.6,427.85 267.95,428.01 268.3,428.09 268.65,427.76 269,428.07 269.35,428.05 269.7,428.25 270.05,427.94 270.4,427.84 270.75,427.78 271.1,428.15 271.45,428.26 271.8,427.88 272.15,427.57 272.5,427.96 272.85,427.54 273.2,427.28 273.55,427.06 273.9,427.37 274.25,427.1 274.6,426.49 274.95,425.64 275.3,424.59 275.65,422.66 276,420.91 276.35,417.46 276.7,414.8 277.05,413.91 277.4,415.65 277.75,418.39 278.1,421.05 278.45,423.37 278.8,424.5 279.15,426.04 279.5,426.26 279.85,427.04 280.2,426.82 280.55,427.06 280.9,427.06 281.25,427.26 281.6,427.1 281.95,426.93 282.3,427.44 282.65,426.96 283,426.73 283.35,426.49 283.7,426.32 284.05,426.09 284.4,426.35 284.75,426.63 285.1,426.66 285.45,427.3 285.8,427.34 286.15,426.7 286.5,427.21 286.85,427.04 287.2,426.53 287.55,425.37 287.9,424.98 288.25,423.57 288.6,421.72 288.95,420.93 289.3,422.14 289.65,423.19 290,424.18 290.35,425.09 290.7,425.86 291.05,426.41 291.4,427.14 291.75,426.97 292.1,426.91 292.45,427.54 292.8,427.43 293.15,426.85 293.5,427.26 293.85,426.75 294.2,426.47 294.55,425.82 294.9,425.38 295.25,424.95 295.6,425.21 295.95,425.29 296.3,426.31 296.65,426.66 297,427.18 297.35,427.16 297.7,427.67 298.05,427.5 298.4,427.33 298.75,427.34 299.1,427.3 299.45,427.6 299.8,427.27 300.15,427.6 300.5,427.36 300.85,427.64 301.2,427.65 301.55,427.69 301.9,427.95 302.25,427.26 302.6,427.93 302.95,427.63 303.3,427.7 303.65,427.79 304,427.92 304.35,427.55 304.7,427.58 305.05,428.01 305.4,427.3 305.75,427.75 306.1,427.74 306.45,427.25 306.8,427.71 307.15,427.77 307.5,427.96 307.85,427.48 308.2,427.99 308.55,427.61 308.9,427.58 309.25,427.91 309.6,427.21 309.95,427.76 310.3,427.68 310.65,427.44 311,427.86" fill="none" stroke="#1c8c1c" stroke-width="1.3" stroke-linejoin="round" stroke-linecap="round" /><text transform="translate(249.4 335) scale(0.990 1)" x="0" y="0" font-size="9.5" fill="#1a1ae6" text-anchor="start" font-weight="normal" >LiCl−4Li<tspan dy="2.38" font-size="0.72em">2</tspan><tspan dy="-2.38">​</tspan>TiF<tspan dy="2.38" font-size="0.72em">6</tspan><tspan dy="-2.38">​</tspan></text><text transform="translate(277.5 393.1) scale(0.966 1)" x="0" y="0" font-size="9.5" fill="#1c8c1c" text-anchor="start" font-weight="normal" >Li<tspan dy="2.38" font-size="0.72em">2</tspan><tspan dy="-2.38">​</tspan>TiF<tspan dy="2.38" font-size="0.72em">6</tspan><tspan dy="-2.38">​</tspan></text><text x="356.6" y="265.4" font-size="14" font-weight="bold" fill="#000" stroke="#000" stroke-width="0.5">e</text><line x1="399.7" y1="261.5" x2="609" y2="261.5" stroke="#555" stroke-width="0.9" /><line x1="609" y1="261.5" x2="609" y2="432.1" stroke="#555" stroke-width="0.9" /><line x1="399.7" y1="261.5" x2="399.7" y2="432.1" stroke="#555" stroke-width="0.9" /><line x1="399.2" y1="432.1" x2="609.5" y2="432.1" stroke="#a8a8a8" stroke-width="1.5" /><line x1="396.5" y1="432.1" x2="399.7" y2="432.1" stroke="#555" stroke-width="0.8" /><text transform="translate(393.3 434.9) scale(1.080 1)" x="0" y="0" font-size="8" fill="#333" text-anchor="end" font-weight="normal" >0</text><line x1="396.5" y1="384.8" x2="399.7" y2="384.8" stroke="#555" stroke-width="0.8" /><text transform="translate(393.3 387.6) scale(1.080 1)" x="0" y="0" font-size="8" fill="#333" text-anchor="end" font-weight="normal" >0.5</text><line x1="396.5" y1="337.5" x2="399.7" y2="337.5" stroke="#555" stroke-width="0.8" /><text transform="translate(393.3 340.3) scale(1.080 1)" x="0" y="0" font-size="8" fill="#333" text-anchor="end" font-weight="normal" >1.0</text><line x1="396.5" y1="290.2" x2="399.7" y2="290.2" stroke="#555" stroke-width="0.8" /><text transform="translate(393.3 293) scale(1.080 1)" x="0" y="0" font-size="8" fill="#333" text-anchor="end" font-weight="normal" >1.5</text><line x1="416.2" y1="432.1" x2="416.2" y2="435.1" stroke="#888" stroke-width="0.8" /><text transform="translate(416.2 448) scale(1.100 1)" x="0" y="0" font-size="8.4" fill="#333" text-anchor="middle" font-weight="normal" >2,810</text><line x1="496.2" y1="432.1" x2="496.2" y2="435.1" stroke="#888" stroke-width="0.8" /><text transform="translate(496.2 448) scale(1.100 1)" x="0" y="0" font-size="8.4" fill="#333" text-anchor="middle" font-weight="normal" >2,820</text><line x1="576.2" y1="432.1" x2="576.2" y2="435.1" stroke="#888" stroke-width="0.8" /><text transform="translate(576.2 448) scale(1.100 1)" x="0" y="0" font-size="8.4" fill="#333" text-anchor="middle" font-weight="normal" >2,830</text><text x="479.3" y="466.2" font-size="9.5" fill="#1c1c1c" text-anchor="start" font-weight="normal" >Energy (eV)</text><text transform="translate(371.02 347.1) rotate(-90) scale(1.048 1)" x="0" y="0" font-size="9.5" fill="#1c1c1c" text-anchor="middle">Normalized intensity (a.u.)</text><text transform="translate(599.6 274.1) scale(1.026 1)" x="0" y="0" font-size="9.5" fill="#1c1c1c" text-anchor="end" font-weight="normal" >Cl K edge</text><line x1="415.2" y1="388.6" x2="424" y2="388.6" stroke="#2222ee" stroke-width="1.1" /><text x="429.2" y="392" font-size="9.5" fill="#2222ee" text-anchor="start" font-weight="normal" >LiCl−4Li<tspan dy="2.38" font-size="0.72em">2</tspan><tspan dy="-2.38">​</tspan>TiF<tspan dy="2.38" font-size="0.72em">6</tspan><tspan dy="-2.38">​</tspan></text><line x1="415.2" y1="401.9" x2="424" y2="401.9" stroke="#111" stroke-width="1.1" /><text transform="translate(429.2 405.3) scale(1.020 1)" x="0" y="0" font-size="9.5" fill="#1c1c1c" text-anchor="start" font-weight="normal" >LiCl</text><path d="M399.7,432.2 C406.42,432.1 429.12,431.82 440,431.6 C450.88,431.38 458.33,431.25 465,430.9 C471.67,430.55 474.58,430.02 480,429.5 C485.42,428.98 492.77,428.63 497.5,427.8 C502.23,426.97 504.95,425.78 508.4,424.5 C511.85,423.22 515.3,421.55 518.2,420.1 C521.1,418.65 523.43,417.62 525.8,415.8 C528.17,413.98 530.4,411.57 532.4,409.2 C534.4,406.83 536.17,405.23 537.8,401.6 C539.43,397.97 540.73,393.05 542.2,387.4 C543.67,381.75 545.25,373.7 546.6,367.7 C547.95,361.7 549.22,356.48 550.3,351.4 C551.38,346.32 552.27,341.27 553.1,337.2 C553.93,333.13 554.57,329.45 555.3,327 C556.03,324.55 556.77,323.58 557.5,322.5 C558.23,321.42 558.87,320.65 559.7,320.5 C560.53,320.35 561.67,321.17 562.5,321.6 C563.33,322.03 563.9,323.47 564.7,323.1 C565.5,322.73 566.32,319.77 567.3,319.4 C568.28,319.03 569.32,320.38 570.6,320.9 C571.88,321.42 573.55,321.92 575,322.5 C576.45,323.08 577.32,323.1 579.3,324.4 C581.28,325.7 584.53,328.48 586.9,330.3 C589.27,332.12 591.65,333.85 593.5,335.3 C595.35,336.75 596.42,337.3 598,339 C599.58,340.7 601.17,343.43 603,345.5 C604.83,347.57 608,350.42 609,351.4" fill="none" stroke="#111" stroke-width="1.2" stroke-linejoin="round" stroke-linecap="round" /><path d="M399.7,432 C406.42,431.97 428.28,431.93 440,431.8 C451.72,431.67 463.33,431.4 470,431.2 C476.67,431 476.15,430.92 480,430.6 C483.85,430.28 489.47,429.88 493.1,429.3 C496.73,428.72 499.25,428.08 501.8,427.1 C504.35,426.12 506.4,425.12 508.4,423.4 C510.4,421.68 512.17,420.18 513.8,416.8 C515.43,413.42 517,405.9 518.2,403.1 C519.4,400.3 519.92,400.25 521,400 C522.08,399.75 523.35,400.98 524.7,401.6 C526.05,402.22 527.63,404.25 529.1,403.7 C530.57,403.15 532.05,401.75 533.5,398.3 C534.95,394.85 536.53,389.18 537.8,383 C539.07,376.82 540.18,368.12 541.1,361.2 C542.02,354.28 542.57,347.87 543.3,341.5 C544.03,335.13 544.77,328.32 545.5,323 C546.23,317.68 546.95,312.6 547.7,309.6 C548.45,306.6 549.28,306.02 550,305 C550.72,303.98 551.12,303.9 552,303.5 C552.88,303.1 554.38,302.5 555.3,302.6 C556.22,302.7 556.77,304.32 557.5,304.1 C558.23,303.88 558.87,302.03 559.7,301.3 C560.53,300.57 561.6,300.5 562.5,299.7 C563.4,298.9 563.93,297.48 565.1,296.5 C566.27,295.52 568.05,294.6 569.5,293.8 C570.95,293 572.53,291.92 573.8,291.7 C575.07,291.48 576,291.7 577.1,292.5 C578.2,293.3 578.77,293.12 580.4,296.5 C582.03,299.88 584.72,307.35 586.9,312.8 C589.08,318.25 591.48,324.67 593.5,329.2 C595.52,333.73 597.42,337.28 599,340 C600.58,342.72 601.33,343.6 603,345.5 C604.67,347.4 608,350.42 609,351.4" fill="none" stroke="#2222ee" stroke-width="1.2" stroke-linejoin="round" stroke-linecap="round" /><line x1="423.8" y1="280.9" x2="423.8" y2="347.3" stroke="#aaa" stroke-width="1.2" /><line x1="423.8" y1="347.3" x2="509.4" y2="347.3" stroke="#555" stroke-width="0.8" /><line x1="421" y1="347.3" x2="423.8" y2="347.3" stroke="#666" stroke-width="0.8" /><text transform="translate(417.6 350) scale(1.120 1)" x="0" y="0" font-size="8" fill="#333" text-anchor="end" font-weight="normal" >0</text><line x1="421" y1="320.74" x2="423.8" y2="320.74" stroke="#666" stroke-width="0.8" /><text transform="translate(417.6 323.44) scale(1.120 1)" x="0" y="0" font-size="8" fill="#333" text-anchor="end" font-weight="normal" >0.2</text><line x1="421" y1="294.18" x2="423.8" y2="294.18" stroke="#666" stroke-width="0.8" /><text transform="translate(417.6 296.88) scale(1.120 1)" x="0" y="0" font-size="8" fill="#333" text-anchor="end" font-weight="normal" >0.4</text><line x1="423.8" y1="347.3" x2="423.8" y2="350.1" stroke="#666" stroke-width="0.8" /><text transform="translate(423.8 360.8) scale(1.050 1)" x="0" y="0" font-size="8.2" fill="#333" text-anchor="middle" font-weight="normal" >2,820</text><line x1="458" y1="347.3" x2="458" y2="350.1" stroke="#666" stroke-width="0.8" /><text transform="translate(458 360.8) scale(1.050 1)" x="0" y="0" font-size="8.2" fill="#333" text-anchor="middle" font-weight="normal" >2,822</text><line x1="492.2" y1="347.3" x2="492.2" y2="350.1" stroke="#666" stroke-width="0.8" /><text transform="translate(492.2 360.8) scale(1.050 1)" x="0" y="0" font-size="8.2" fill="#333" text-anchor="middle" font-weight="normal" >2,824</text><path d="M423.8,341.8 C426.35,341.25 434.6,339.28 439.1,338.5 C443.6,337.72 447.55,337.75 450.8,337.1 C454.05,336.45 455.83,335.33 458.6,334.6 C461.37,333.87 464.95,333.45 467.4,332.7 C469.85,331.95 470.85,331.18 473.3,330.1 C475.75,329.02 479.33,327.95 482.1,326.2 C484.87,324.45 487.3,321.78 489.9,319.6 C492.5,317.42 495.58,314.67 497.7,313.1 C499.82,311.53 501.22,311.25 502.6,310.2 C503.98,309.15 504.87,308.02 506,306.8 C507.13,305.58 508.83,303.55 509.4,302.9" fill="none" stroke="#111" stroke-width="1.2" stroke-linejoin="round" stroke-linecap="round" /><path d="M423.8,344.4 C425.5,343.83 430.8,342.1 434,341 C437.2,339.9 440.33,338.93 443,337.8 C445.67,336.67 447.83,335.63 450,334.2 C452.17,332.77 454.08,331.4 456,329.2 C457.92,327 459.77,323.85 461.5,321 C463.23,318.15 464.73,314.72 466.4,312.1 C468.07,309.48 469.82,306.92 471.5,305.3 C473.18,303.68 474.83,302.68 476.5,302.4 C478.17,302.12 479.75,302.97 481.5,303.6 C483.25,304.23 485.22,305.43 487,306.2 C488.78,306.97 490.42,308.18 492.2,308.2 C493.98,308.22 495.97,307.6 497.7,306.3 C499.43,305 501.22,302.53 502.6,300.4 C503.98,298.27 504.87,296.03 506,293.5 C507.13,290.97 508.83,286.58 509.4,285.2" fill="none" stroke="#2222ee" stroke-width="1.2" stroke-linejoin="round" stroke-linecap="round" /></g>
<g id="pfg"><text x="-0.6" y="487.6" font-size="14" font-weight="bold" fill="#000" stroke="#000" stroke-width="0.5">f</text><line x1="45.2" y1="481.5" x2="216.6" y2="481.5" stroke="#555" stroke-width="0.9" /><line x1="216.6" y1="481.5" x2="216.6" y2="652.3" stroke="#555" stroke-width="0.9" /><line x1="45.2" y1="481.5" x2="45.2" y2="652.3" stroke="#555" stroke-width="0.9" /><line x1="44.7" y1="652.3" x2="217.1" y2="652.3" stroke="#666" stroke-width="1.0" /><line x1="88.4" y1="652.3" x2="88.4" y2="655.8" stroke="#666" stroke-width="0.8" /><text transform="translate(88.4 667.3) scale(1.100 1)" x="0" y="0" font-size="8.4" fill="#333" text-anchor="middle" font-weight="normal" >460</text><line x1="173.7" y1="652.3" x2="173.7" y2="655.8" stroke="#666" stroke-width="0.8" /><text transform="translate(173.7 667.3) scale(1.100 1)" x="0" y="0" font-size="8.4" fill="#333" text-anchor="middle" font-weight="normal" >470</text><text transform="translate(105.9 682.6) scale(0.983 1)" x="0" y="0" font-size="9.5" fill="#1c1c1c" text-anchor="start" font-weight="normal" >Energy (eV)</text><text transform="translate(38.02 567.2) rotate(-90) scale(1.040 1)" x="0" y="0" font-size="9.5" fill="#1c1c1c" text-anchor="middle">Norm. intensity (a.u.)</text><line x1="51.1" y1="492.4" x2="59.7" y2="492.4" stroke="#2a2ae6" stroke-width="1.2" /><text transform="translate(64.9 495.8) scale(1.008 1)" x="0" y="0" font-size="9.5" fill="#1c1c1c" text-anchor="start" font-weight="normal" >LiCl−4Li<tspan dy="2.38" font-size="0.72em">2</tspan><tspan dy="-2.38">​</tspan>TiF<tspan dy="2.38" font-size="0.72em">6</tspan><tspan dy="-2.38">​</tspan></text><line x1="51.1" y1="506" x2="59.7" y2="506" stroke="#3a9a3a" stroke-width="1.2" /><text transform="translate(64.9 509.4) scale(0.987 1)" x="0" y="0" font-size="9.5" fill="#1c1c1c" text-anchor="start" font-weight="normal" >Li<tspan dy="2.38" font-size="0.72em">2</tspan><tspan dy="-2.38">​</tspan>TiF<tspan dy="2.38" font-size="0.72em">6</tspan><tspan dy="-2.38">​</tspan></text><path d="M45.2,639.3 C47.4,639.28 55.18,639.5 58.4,639.2 C61.62,638.9 62.9,638.32 64.5,637.5 C66.1,636.68 66.92,635.35 68,634.3 C69.08,633.25 70.05,631.92 71,631.2 C71.95,630.48 72.83,630.62 73.7,630 C74.57,629.38 75.23,628.58 76.2,627.5 C77.17,626.42 78.53,625.25 79.5,623.5 C80.47,621.75 81.25,619.92 82,617 C82.75,614.08 83.37,609.83 84,606 C84.63,602.17 85.22,597.58 85.8,594 C86.38,590.42 86.88,586.7 87.5,584.5 C88.12,582.3 88.83,580.72 89.5,580.8 C90.17,580.88 90.82,581.97 91.5,585 C92.18,588.03 92.92,594.92 93.6,599 C94.28,603.08 94.92,607.03 95.6,609.5 C96.28,611.97 96.97,613.3 97.7,613.8 C98.43,614.3 99.25,613.55 100,612.5 C100.75,611.45 101.48,610.25 102.2,607.5 C102.92,604.75 103.62,600.67 104.3,596 C104.98,591.33 105.65,584.83 106.3,579.5 C106.95,574.17 107.62,567.83 108.2,564 C108.78,560.17 109.3,558.03 109.8,556.5 C110.3,554.97 110.73,554.55 111.2,554.8 C111.67,555.05 112.1,555.13 112.6,558 C113.1,560.87 113.63,566.5 114.2,572 C114.77,577.5 115.37,585.17 116,591 C116.63,596.83 117.33,602.67 118,607 C118.67,611.33 119.43,614.9 120,617 C120.57,619.1 120.9,619.52 121.4,619.6 C121.9,619.68 122.4,619.27 123,617.5 C123.6,615.73 124.33,612.67 125,609 C125.67,605.33 126.33,600.67 127,595.5 C127.67,590.33 128.33,583.42 129,578 C129.67,572.58 130.42,566.58 131,563 C131.58,559.42 132.08,557.73 132.5,556.5 C132.92,555.27 133.12,555.35 133.5,555.6 C133.88,555.85 134.28,555.77 134.8,558 C135.32,560.23 135.97,564.83 136.6,569 C137.23,573.17 137.93,579.17 138.6,583 C139.27,586.83 139.92,590.03 140.6,592 C141.28,593.97 142,594.72 142.7,594.8 C143.4,594.88 144.12,593.97 144.8,592.5 C145.48,591.03 146.1,589.08 146.8,586 C147.5,582.92 148.3,578.67 149,574 C149.7,569.33 150.4,562.67 151,558 C151.6,553.33 152.1,548.87 152.6,546 C153.1,543.13 153.53,541.83 154,540.8 C154.47,539.77 154.93,539.68 155.4,539.8 C155.87,539.92 156.32,539.97 156.8,541.5 C157.28,543.03 157.77,545.42 158.3,549 C158.83,552.58 159.38,557.5 160,563 C160.62,568.5 161.33,576.17 162,582 C162.67,587.83 163.33,593.67 164,598 C164.67,602.33 165.33,605.25 166,608 C166.67,610.75 167.12,612.25 168,614.5 C168.88,616.75 170.13,619.67 171.3,621.5 C172.47,623.33 174.38,624.83 175,625.5" fill="none" stroke="#3a9a3a" stroke-width="1.3" stroke-linejoin="round" stroke-linecap="round" /><path d="M45.2,639.3 C47.4,639.28 55.18,639.45 58.4,639.2 C61.62,638.95 62.45,638.75 64.5,637.8 C66.55,636.85 69.12,634.55 70.7,633.5 C72.28,632.45 72.98,632.32 74,631.5 C75.02,630.68 75.8,629.77 76.8,628.6 C77.8,627.43 79.1,626.27 80,624.5 C80.9,622.73 81.53,620.75 82.2,618 C82.87,615.25 83.43,612 84,608 C84.57,604 85.07,598.67 85.6,594 C86.13,589.33 86.55,583.6 87.2,580 C87.85,576.4 88.77,572.57 89.5,572.4 C90.23,572.23 90.92,574.9 91.6,579 C92.28,583.1 92.93,591.75 93.6,597 C94.27,602.25 94.92,607.3 95.6,610.5 C96.28,613.7 96.97,615.53 97.7,616.2 C98.43,616.87 99.25,615.53 100,614.5 C100.75,613.47 101.48,612.75 102.2,610 C102.92,607.25 103.62,603.33 104.3,598 C104.98,592.67 105.65,585 106.3,578 C106.95,571 107.62,562.33 108.2,556 C108.78,549.67 109.3,543.4 109.8,540 C110.3,536.6 110.73,535.43 111.2,535.6 C111.67,535.77 112.1,537.08 112.6,541 C113.1,544.92 113.63,552.1 114.2,559.1 C114.77,566.1 115.37,575.18 116,583 C116.63,590.82 117.33,600.17 118,606 C118.67,611.83 119.43,615.47 120,618 C120.57,620.53 120.9,621.03 121.4,621.2 C121.9,621.37 122.4,620.87 123,619 C123.6,617.13 124.33,614 125,610 C125.67,606 126.33,600.83 127,595 C127.67,589.17 128.33,582.17 129,575 C129.67,567.83 130.42,557.42 131,552 C131.58,546.58 132.08,544.38 132.5,542.5 C132.92,540.62 133.12,540.45 133.5,540.7 C133.88,540.95 134.28,540.95 134.8,544 C135.32,547.05 135.97,553.33 136.6,559 C137.23,564.67 137.93,572.67 138.6,578 C139.27,583.33 139.92,588.07 140.6,591 C141.28,593.93 142,595.27 142.7,595.6 C143.4,595.93 144.12,594.77 144.8,593 C145.48,591.23 146.1,588.83 146.8,585 C147.5,581.17 148.3,576 149,570 C149.7,564 150.4,555.67 151,549 C151.6,542.33 152.1,535.08 152.6,530 C153.1,524.92 153.53,521.08 154,518.5 C154.47,515.92 154.93,514.42 155.4,514.5 C155.87,514.58 156.32,516.08 156.8,519 C157.28,521.92 157.77,526.67 158.3,532 C158.83,537.33 159.38,543.83 160,551 C160.62,558.17 161.33,567.83 162,575 C162.67,582.17 163.33,588.83 164,594 C164.67,599.17 165.33,602.67 166,606 C166.67,609.33 167.12,611.42 168,614 C168.88,616.58 170.13,619.58 171.3,621.5 C172.47,623.42 173.63,624.45 175,625.5 C176.37,626.55 178,627.25 179.5,627.8 C181,628.35 182.58,628.6 184,628.8 C185.42,629 186.5,629.1 188,629 C189.5,628.9 191.33,628.57 193,628.2 C194.67,627.83 196.5,627.33 198,626.8 C199.5,626.27 200.83,625.45 202,625 C203.17,624.55 204,624.22 205,624.1 C206,623.98 207,624.07 208,624.3 C209,624.53 209.57,624.97 211,625.5 C212.43,626.03 215.67,627.17 216.6,627.5" fill="none" stroke="#2a2ae6" stroke-width="1.3" stroke-linejoin="round" stroke-linecap="round" /><line x1="82.9" y1="625.6" x2="119.8" y2="625.6" stroke="#9a9a9a" stroke-width="0.9" /><path d="M80.9,625.6 L84.5,623.8 L84.5,627.4 Z" fill="#9a9a9a"/><path d="M121.8,625.6 L118.2,623.8 L118.2,627.4 Z" fill="#9a9a9a"/><line x1="130.4" y1="625.5" x2="168.3" y2="625.5" stroke="#9a9a9a" stroke-width="0.9" /><path d="M128.4,625.5 L132,623.7 L132,627.3 Z" fill="#9a9a9a"/><path d="M170.3,625.5 L166.7,623.7 L166.7,627.3 Z" fill="#9a9a9a"/><text transform="translate(84.6 636.1) scale(1.007 1)" x="0" y="0" font-size="9.5" fill="#9a9a9a" text-anchor="start" font-weight="normal" >L<tspan dy="2.38" font-size="0.72em">3</tspan><tspan dy="-2.38">​</tspan> edge</text><text x="132.5" y="636.1" font-size="9.5" fill="#9a9a9a" text-anchor="start" font-weight="normal" >L<tspan dy="2.38" font-size="0.72em">2</tspan><tspan dy="-2.38">​</tspan> edge</text><text x="89.1" y="620.5" font-size="9.5" fill="#9a9a9a" text-anchor="start" font-weight="normal" >t<tspan dy="2.38" font-size="0.72em">2g</tspan><tspan dy="-2.38">​</tspan></text><text transform="translate(107.1 612) scale(0.946 1)" x="0" y="0" font-size="9.5" fill="#9a9a9a" text-anchor="start" font-weight="normal" >e<tspan dy="2.38" font-size="0.72em">g</tspan><tspan dy="-2.38">​</tspan></text><text transform="translate(134.1 601.5) scale(0.937 1)" x="0" y="0" font-size="9.5" fill="#9a9a9a" text-anchor="start" font-weight="normal" >t<tspan dy="2.38" font-size="0.72em">2g</tspan><tspan dy="-2.38">​</tspan></text><text transform="translate(151.9 591) scale(0.902 1)" x="0" y="0" font-size="9.5" fill="#9a9a9a" text-anchor="start" font-weight="normal" >e<tspan dy="2.38" font-size="0.72em">g</tspan><tspan dy="-2.38">​</tspan></text><text transform="translate(110.8 650.1) scale(1.015 1)" x="0" y="0" font-size="9.5" fill="#1c1c1c" text-anchor="start" font-weight="normal" >Ti l edge in TEY mode</text><text x="237.6" y="487.4" font-size="14" font-weight="bold" fill="#000" stroke="#000" stroke-width="0.5">g</text><line x1="266.6" y1="481.3" x2="608.7" y2="481.3" stroke="#555" stroke-width="0.9" /><line x1="608.7" y1="481.3" x2="608.7" y2="652.2" stroke="#555" stroke-width="0.9" /><line x1="266.6" y1="481.3" x2="266.6" y2="652.2" stroke="#555" stroke-width="0.9" /><line x1="266.6" y1="566.9" x2="608.7" y2="566.9" stroke="#888" stroke-width="1.3" /><line x1="266.1" y1="652.2" x2="609.2" y2="652.2" stroke="#555" stroke-width="1.0" /><line x1="308.9" y1="652.2" x2="308.9" y2="649.7" stroke="#666" stroke-width="0.8" /><text x="308.9" y="667.4" font-size="8.2" fill="#333" text-anchor="middle" font-weight="normal" >5</text><line x1="368.8" y1="652.2" x2="368.8" y2="649.7" stroke="#666" stroke-width="0.8" /><text x="368.8" y="667.4" font-size="8.2" fill="#333" text-anchor="middle" font-weight="normal" >10</text><line x1="428.7" y1="652.2" x2="428.7" y2="649.7" stroke="#666" stroke-width="0.8" /><text x="428.7" y="667.4" font-size="8.2" fill="#333" text-anchor="middle" font-weight="normal" >15</text><line x1="488.6" y1="652.2" x2="488.6" y2="649.7" stroke="#666" stroke-width="0.8" /><text x="488.6" y="667.4" font-size="8.2" fill="#333" text-anchor="middle" font-weight="normal" >20</text><line x1="548.5" y1="652.2" x2="548.5" y2="649.7" stroke="#666" stroke-width="0.8" /><text x="548.5" y="667.4" font-size="8.2" fill="#333" text-anchor="middle" font-weight="normal" >25</text><line x1="608.4" y1="652.2" x2="608.4" y2="649.7" stroke="#666" stroke-width="0.8" /><text x="608.4" y="667.4" font-size="8.2" fill="#333" text-anchor="middle" font-weight="normal" >30</text><text transform="translate(427.8 683.9) scale(0.925 1)" x="0" y="0" font-size="9.5" fill="#1c1c1c" text-anchor="start" font-weight="normal" ><tspan font-style="italic">R</tspan> (Å)</text><text transform="translate(259.02 566.7) rotate(-90) scale(0.974 1)" x="0" y="0" font-size="9.5" fill="#1c1c1c" text-anchor="middle">G(r) (a.u.)</text><text transform="translate(283 498.8) scale(0.800 1)" x="0" y="0" font-size="9.5" fill="#3a9af0" text-anchor="middle" font-weight="normal" >X</text><text transform="translate(293.4 498.8) scale(0.850 1)" x="0" y="0" font-size="9.5" fill="#4acb6a" text-anchor="middle" font-weight="normal" >X</text><text transform="translate(300.8 498.8) scale(1.025 1)" x="0" y="0" font-size="9.5" fill="#1c1c1c" text-anchor="start" font-weight="normal" >Observed</text><line x1="346.8" y1="495.8" x2="369.8" y2="495.8" stroke="#1010e0" stroke-width="1.4" /><line x1="374.4" y1="495.8" x2="397.6" y2="495.8" stroke="#108810" stroke-width="1.4" /><text transform="translate(403.9 498.8) scale(1.034 1)" x="0" y="0" font-size="9.5" fill="#1c1c1c" text-anchor="start" font-weight="normal" >Calculated</text><line x1="454.6" y1="496.3" x2="477.7" y2="496.3" stroke="#f4a0a0" stroke-width="1.0" /><text transform="translate(482.6 498.8) scale(1.039 1)" x="0" y="0" font-size="9.5" fill="#1c1c1c" text-anchor="start" font-weight="normal" >Difference</text><text x="548.5" y="497.2" font-size="9.5" fill="#2222ee" text-anchor="start" font-weight="normal" >LiCl−4Li<tspan dy="2.38" font-size="0.72em">2</tspan><tspan dy="-2.38">​</tspan>TiF<tspan dy="2.38" font-size="0.72em">6</tspan><tspan dy="-2.38">​</tspan></text><text transform="translate(576 582.6) scale(0.980 1)" x="0" y="0" font-size="9.5" fill="#2e9a2e" text-anchor="start" font-weight="normal" >Li<tspan dy="2.38" font-size="0.72em">2</tspan><tspan dy="-2.38">​</tspan>TiF<tspan dy="2.38" font-size="0.72em">6</tspan><tspan dy="-2.38">​</tspan></text><polyline points="266.9,530.7 268.6,538.9 269.8,538.18 271,537.25 272.2,536.32 273.4,535.6 274.6,535.6 275.8,535.56 277.05,532.9 278.3,527.24 279.32,527.87 280.35,525.61 281.38,524.38 282.4,522.48 283.6,525.32 284.8,530.52 286,533.17 287.2,535.89 288.43,531.84 289.65,527.99 290.88,524.54 292.1,523.24 293.35,528.79 294.6,534.62 295.83,531.54 297.05,532.7 298.27,533.65 299.5,532.49 301.1,529.25 302.12,524.98 303.15,518.21 304.18,512.9 305.2,511.83 306.2,516.17 307.2,521.95 308.2,528.13 309.2,533.17 310.9,533.88 312.1,529.09 313.3,523.22 314.5,517.72 315.7,512.99 316.73,517.27 317.75,520.69 318.77,527.04 319.8,530.7 320.82,534.28 321.85,535.22 322.88,537.76 323.9,539.31 324.97,538.99 326.03,537.01 327.1,533.72 328.33,529.04 329.55,525.99 330.77,522.08 332,517.98 333.14,517.05 334.28,517.4 335.42,518.62 336.56,519.19 337.7,520.2 338.73,525.47 339.75,532.68 340.77,535.26 341.8,540.33 343.02,537.6 344.25,535.94 345.48,537.47 346.7,536.8 347.93,532.69 349.15,524.05 350.38,514.3 351.6,509.14 352.6,514.63 353.6,522.31 354.6,529.1 355.6,531.86 356.62,528.96 357.64,524.73 358.66,523.55 359.68,519.94 360.7,517.27 361.93,519.89 363.15,524.04 364.38,531.3 365.6,533.67 366.83,533.15 368.05,526.21 369.27,523.83 370.5,518.19 371.64,520.17 372.78,526.9 373.92,530.7 375.06,536.76 376.2,538.59 377.34,534.05 378.48,532.27 379.62,528.54 380.76,525.27 381.9,521.93 383.12,521.3 384.35,525.12 385.57,528.71 386.8,530.16 387.8,531.48 388.8,528.94 389.8,530.52 390.8,530.06 391.82,528.45 392.85,528.94 393.88,532.85 394.9,535.89 396.04,530.81 397.18,527.19 398.32,525.09 399.46,519.97 400.6,519.46 401.83,522.93 403.05,526.17 404.27,531.83 405.5,536.92 406.73,535.06 407.95,533.72 409.17,529.62 410.4,529.79 411.4,524.58 412.4,519.79 413.4,514.52 414.4,509.5 415.65,516.37 416.9,525.19 417.97,526.02 419.03,525.33 420.1,523.89 421.24,524.6 422.38,525.91 423.52,532.21 424.66,535.45 425.8,538.38 426.94,534.96 428.08,533.17 429.22,532.6 430.36,530.63 431.5,528.11 432.6,526.15 433.7,525.51 434.8,526.87 435.9,525.08 437,525.36 438.1,525.01 439.24,528.26 440.38,531.08 441.52,531.81 442.66,532.31 443.8,534.48 444.94,532.91 446.08,530.94 447.22,529.14 448.36,527.09 449.5,521.66 450.53,523.34 451.57,523.8 452.6,524.03 453.63,522.7 454.67,520.7 455.7,522.12 456.73,524.99 457.75,527.72 458.77,531.57 459.8,531.87 460.8,528.46 461.8,527.69 462.8,527.35 463.8,524.11 464.94,525.46 466.08,526.72 467.22,524.25 468.36,524.61 469.5,525.02 470.6,527.1 471.7,529.15 472.8,531.47 473.9,529.86 475,526.49 476.1,522.06 477.3,525.37 478.5,532.8 480.1,523.01 481.2,524.37 482.3,529.06 483.4,533.92 484.42,533.72 485.45,531.37 486.48,529.5 487.5,528.77 488.7,527.15 489.9,526.44 491.1,526.06 492.3,528.08 493.52,526.68 494.75,526.14 495.98,524.58 497.2,523.99 498.34,521.89 499.48,519.93 500.62,522.49 501.76,520.57 502.9,518.29 503.92,522.61 504.95,527.61 505.98,529.23 507,532.98 508.23,532.54 509.45,533.24 510.67,531.59 511.9,530.99 513.12,531.81 514.35,529.23 515.57,524.43 516.8,521.44 517.8,519.56 518.8,520.45 519.8,518.99 520.8,520.31 521.82,523.75 522.85,528.38 523.88,533.48 524.9,534.19 525.98,530.71 527.06,528.65 528.14,526.51 529.22,524.21 530.3,522.47 531.38,525.09 532.47,528.14 533.55,528.34 534.63,531 535.72,532.47 536.8,529.85 537.94,529.94 539.08,528.55 540.22,526.21 541.36,528.22 542.5,525.89 543.64,525.63 544.78,525.13 545.92,525.57 547.06,524.01 548.2,521.82 549.34,523.19 550.48,524.1 551.62,529.34 552.76,532.99 553.9,532.12 554.94,529.62 555.99,528.96 557.03,528.59 558.07,530.27 559.11,530.61 560.16,530.14 561.2,526.37 562.3,528.8 563.4,530.19 564.5,530.88 565.73,530.86 566.95,525.74 568.17,522.8 569.4,523.46 570.62,526.03 571.85,526.83 573.07,526.22 574.3,527.53 575.38,528.33 576.47,525.85 577.55,525.56 578.63,525.07 579.72,524.22 580.8,525.29 581.88,525.27 582.97,526.2 584.05,526.87 585.13,530.02 586.22,529.14 587.3,532.03 588.38,530.46 589.47,528.82 590.55,531.55 591.63,529.56 592.72,531.45 593.8,531.88 594.81,531.69 595.82,527.95 596.84,527.02 597.85,524.59 598.86,526.47 599.88,526.48 600.89,525.21 601.9,523.62 603,523.15 604.1,525.32 605.2,525.22 606.3,526.14 607.4,524.8 608.5,526.4" fill="none" stroke="#2a8cff" stroke-width="6.0" stroke-linejoin="round" stroke-linecap="round"/><polyline points="266.9,530.7 268.6,538.9 269.8,538.18 271,537.25 272.2,536.32 273.4,535.6 274.6,535.6 275.8,535.56 277.05,532.9 278.3,527.24 279.32,527.87 280.35,525.61 281.38,524.38 282.4,522.48 283.6,525.32 284.8,530.52 286,533.17 287.2,535.89 288.43,531.84 289.65,527.99 290.88,524.54 292.1,523.24 293.35,528.79 294.6,534.62 295.83,531.54 297.05,532.7 298.27,533.65 299.5,532.49 301.1,529.25 302.12,524.98 303.15,518.21 304.18,512.9 305.2,511.83 306.2,516.17 307.2,521.95 308.2,528.13 309.2,533.17 310.9,533.88 312.1,529.09 313.3,523.22 314.5,517.72 315.7,512.99 316.73,517.27 317.75,520.69 318.77,527.04 319.8,530.7 320.82,534.28 321.85,535.22 322.88,537.76 323.9,539.31 324.97,538.99 326.03,537.01 327.1,533.72 328.33,529.04 329.55,525.99 330.77,522.08 332,517.98 333.14,517.05 334.28,517.4 335.42,518.62 336.56,519.19 337.7,520.2 338.73,525.47 339.75,532.68 340.77,535.26 341.8,540.33 343.02,537.6 344.25,535.94 345.48,537.47 346.7,536.8 347.93,532.69 349.15,524.05 350.38,514.3 351.6,509.14 352.6,514.63 353.6,522.31 354.6,529.1 355.6,531.86 356.62,528.96 357.64,524.73 358.66,523.55 359.68,519.94 360.7,517.27 361.93,519.89 363.15,524.04 364.38,531.3 365.6,533.67 366.83,533.15 368.05,526.21 369.27,523.83 370.5,518.19 371.64,520.17 372.78,526.9 373.92,530.7 375.06,536.76 376.2,538.59 377.34,534.05 378.48,532.27 379.62,528.54 380.76,525.27 381.9,521.93 383.12,521.3 384.35,525.12 385.57,528.71 386.8,530.16 387.8,531.48 388.8,528.94 389.8,530.52 390.8,530.06 391.82,528.45 392.85,528.94 393.88,532.85 394.9,535.89 396.04,530.81 397.18,527.19 398.32,525.09 399.46,519.97 400.6,519.46 401.83,522.93 403.05,526.17 404.27,531.83 405.5,536.92 406.73,535.06 407.95,533.72 409.17,529.62 410.4,529.79 411.4,524.58 412.4,519.79 413.4,514.52 414.4,509.5 415.65,516.37 416.9,525.19 417.97,526.02 419.03,525.33 420.1,523.89 421.24,524.6 422.38,525.91 423.52,532.21 424.66,535.45 425.8,538.38 426.94,534.96 428.08,533.17 429.22,532.6 430.36,530.63 431.5,528.11 432.6,526.15 433.7,525.51 434.8,526.87 435.9,525.08 437,525.36 438.1,525.01 439.24,528.26 440.38,531.08 441.52,531.81 442.66,532.31 443.8,534.48 444.94,532.91 446.08,530.94 447.22,529.14 448.36,527.09 449.5,521.66 450.53,523.34 451.57,523.8 452.6,524.03 453.63,522.7 454.67,520.7 455.7,522.12 456.73,524.99 457.75,527.72 458.77,531.57 459.8,531.87 460.8,528.46 461.8,527.69 462.8,527.35 463.8,524.11 464.94,525.46 466.08,526.72 467.22,524.25 468.36,524.61 469.5,525.02 470.6,527.1 471.7,529.15 472.8,531.47 473.9,529.86 475,526.49 476.1,522.06 477.3,525.37 478.5,532.8 480.1,523.01 481.2,524.37 482.3,529.06 483.4,533.92 484.42,533.72 485.45,531.37 486.48,529.5 487.5,528.77 488.7,527.15 489.9,526.44 491.1,526.06 492.3,528.08 493.52,526.68 494.75,526.14 495.98,524.58 497.2,523.99 498.34,521.89 499.48,519.93 500.62,522.49 501.76,520.57 502.9,518.29 503.92,522.61 504.95,527.61 505.98,529.23 507,532.98 508.23,532.54 509.45,533.24 510.67,531.59 511.9,530.99 513.12,531.81 514.35,529.23 515.57,524.43 516.8,521.44 517.8,519.56 518.8,520.45 519.8,518.99 520.8,520.31 521.82,523.75 522.85,528.38 523.88,533.48 524.9,534.19 525.98,530.71 527.06,528.65 528.14,526.51 529.22,524.21 530.3,522.47 531.38,525.09 532.47,528.14 533.55,528.34 534.63,531 535.72,532.47 536.8,529.85 537.94,529.94 539.08,528.55 540.22,526.21 541.36,528.22 542.5,525.89 543.64,525.63 544.78,525.13 545.92,525.57 547.06,524.01 548.2,521.82 549.34,523.19 550.48,524.1 551.62,529.34 552.76,532.99 553.9,532.12 554.94,529.62 555.99,528.96 557.03,528.59 558.07,530.27 559.11,530.61 560.16,530.14 561.2,526.37 562.3,528.8 563.4,530.19 564.5,530.88 565.73,530.86 566.95,525.74 568.17,522.8 569.4,523.46 570.62,526.03 571.85,526.83 573.07,526.22 574.3,527.53 575.38,528.33 576.47,525.85 577.55,525.56 578.63,525.07 579.72,524.22 580.8,525.29 581.88,525.27 582.97,526.2 584.05,526.87 585.13,530.02 586.22,529.14 587.3,532.03 588.38,530.46 589.47,528.82 590.55,531.55 591.63,529.56 592.72,531.45 593.8,531.88 594.81,531.69 595.82,527.95 596.84,527.02 597.85,524.59 598.86,526.47 599.88,526.48 600.89,525.21 601.9,523.62 603,523.15 604.1,525.32 605.2,525.22 606.3,526.14 607.4,524.8 608.5,526.4" fill="none" stroke="#0a0cf0" stroke-width="1.8" stroke-linejoin="round" stroke-linecap="round"/><polyline points="266.9,620.3 268.8,628.4 269.88,627.32 270.96,625.91 272.04,624.39 273.12,622.98 274.2,621.9 275.3,622.88 276.4,624.12 277.5,623.36 278.73,621.86 279.95,615.74 281.17,609.51 282.4,606.45 283.6,608.94 284.8,614.95 286,616.37 287.2,621.82 288.43,616.28 289.65,614.88 290.88,611.26 292.1,606.53 293.35,612.51 294.6,617.52 295.74,617.1 296.88,616.67 298.02,617.16 299.16,620.02 300.3,621.33 301.52,614.73 302.75,602.42 303.98,592.75 305.2,588.1 306.4,593.36 307.6,605.16 308.8,614.22 310,624.39 311.14,616 312.28,610.93 313.42,602.25 314.56,593.86 315.7,587.26 316.73,595.34 317.75,602.06 318.77,607.33 319.8,612.87 321.02,619.83 322.25,624.13 323.48,630.96 324.7,634.2 325.8,629.44 326.9,626.37 328,622.89 329,615.77 330,607.56 331,600.1 332,596.74 333.14,598.09 334.28,598.57 335.42,599.28 336.56,601.94 337.7,603.93 338.84,609.58 339.98,615.21 341.12,620.02 342.26,624.79 343.4,631.7 344.62,629.88 345.85,629.16 347.07,625.01 348.3,625.72 349.4,613.93 350.5,602.11 351.6,592.19 352.6,596.85 353.6,601.93 354.6,612.15 355.6,617.35 356.68,615.18 357.75,608.64 358.82,602.83 359.9,601.46 361.04,604.69 362.18,608.88 363.32,615.08 364.46,621.64 365.6,623.85 366.83,619.62 368.05,612.72 369.27,605.98 370.5,599.01 371.64,605.72 372.78,613.32 373.92,620.93 375.06,625.35 376.2,630.99 377.28,626.01 378.37,622.02 379.45,613.97 380.53,610.65 381.62,606.97 382.7,601.73 383.77,607.24 384.83,614.64 385.9,620.62 387.04,617.48 388.18,619.24 389.32,616.13 390.46,613.92 391.6,612.2 392.7,615.45 393.8,621.69 394.9,622.49 395.98,618.52 397.07,616.51 398.15,610.69 399.23,604.74 400.32,602.4 401.4,599.87 402.62,605.83 403.85,614.24 405.07,619.69 406.3,627.78 407.32,626.74 408.35,622.25 409.38,619.54 410.4,619.3 411.52,612.6 412.65,602.47 413.77,592.06 414.9,585.56 416.3,596.57 417.7,609.93 418.8,610.74 419.9,607.3 421,607.09 422.2,612.79 423.4,616.83 424.6,624.73 425.8,630.66 426.9,626.44 428,622.56 429.1,620.44 430.2,616.18 431.3,612.1 432.4,611.5 433.4,612.91 434.4,612.76 435.4,613.17 436.4,614.26 437.5,612.1 438.6,611.39 439.7,609.23 440.84,612.98 441.98,616.92 443.12,621.39 444.26,622.16 445.4,625.75 446.42,623.73 447.45,619.24 448.48,611.42 449.5,606.93 450.58,606.97 451.66,605.29 452.74,604.69 453.82,602.04 454.9,602.1 456.12,606.61 457.35,609.92 458.57,614.7 459.8,621.94 461.02,619.99 462.25,617.53 463.48,613.25 464.7,610.96 465.84,611.29 466.98,611.31 468.12,607.63 469.26,608.42 470.4,607.14 471.47,612.64 472.53,616.84 473.6,621.72 474.7,618.59 475.8,611.89 476.9,605.13 478.1,613.62 479.3,621.56 480.55,615.49 481.8,605.49 483,612.48 484.2,621.33 485.23,618.37 486.25,617.98 487.27,618.43 488.3,616.26 489.52,614.99 490.75,615.4 491.98,615.99 493.2,614.71 494.4,612.54 495.6,610.39 496.8,609.09 498,608.4 499.14,606.73 500.28,604.51 501.42,601.63 502.56,601.26 503.7,601.71 504.73,606.04 505.75,611.61 506.77,617.62 507.8,620.27 509.03,622.13 510.25,622.37 511.48,623.21 512.7,624.08 513.73,620.09 514.75,614.61 515.77,609.33 516.8,605.39 517.8,604.68 518.8,602.32 519.8,600.84 520.8,597.04 521.9,602.85 523,612.12 524.1,617.47 525.2,623.41 526.35,620.43 527.5,615.66 528.65,614.32 529.8,609.57 531.02,612.54 532.25,612.8 533.48,613.8 534.7,618.35 535.84,617.53 536.98,615.35 538.12,615.51 539.26,615.63 540.4,616.81 541.54,613.62 542.68,611.63 543.82,612.83 544.96,611.63 546.1,608.13 547.27,606.3 548.43,604.28 549.6,604.05 550.64,606.44 551.69,610.18 552.73,613.51 553.77,615.46 554.81,618.83 555.86,621.64 556.9,623.85 557.97,621.26 559.03,620.17 560.1,618.11 561.17,616.9 562.23,612.1 563.3,612.45 564.5,611.87 565.7,616.61 566.9,618.96 568.05,615.86 569.2,614.05 570.35,609.61 571.5,605.81 572.6,608.4 573.7,611.23 574.8,612.63 575.9,613.32 577,614.56 578.05,613.73 579.1,613.87 580.15,611.5 581.2,610.28 582.25,609.95 583.3,608.78 584.45,610.69 585.6,615.51 586.75,619.64 587.9,621.01 588.97,620.09 590.03,618.38 591.1,617.91 592.17,616.84 593.23,618.01 594.3,618.46 595.34,615.26 596.39,616.13 597.43,612.78 598.47,612.24 599.51,610.88 600.56,609.87 601.6,605.63 602.75,605.92 603.9,608.61 605.05,606.56 606.2,606.28 607.35,608.73 608.5,610.2" fill="none" stroke="#3ec668" stroke-width="6.0" stroke-linejoin="round" stroke-linecap="round"/><polyline points="266.9,620.3 268.8,628.4 269.88,627.32 270.96,625.91 272.04,624.39 273.12,622.98 274.2,621.9 275.3,622.88 276.4,624.12 277.5,623.36 278.73,621.86 279.95,615.74 281.17,609.51 282.4,606.45 283.6,608.94 284.8,614.95 286,616.37 287.2,621.82 288.43,616.28 289.65,614.88 290.88,611.26 292.1,606.53 293.35,612.51 294.6,617.52 295.74,617.1 296.88,616.67 298.02,617.16 299.16,620.02 300.3,621.33 301.52,614.73 302.75,602.42 303.98,592.75 305.2,588.1 306.4,593.36 307.6,605.16 308.8,614.22 310,624.39 311.14,616 312.28,610.93 313.42,602.25 314.56,593.86 315.7,587.26 316.73,595.34 317.75,602.06 318.77,607.33 319.8,612.87 321.02,619.83 322.25,624.13 323.48,630.96 324.7,634.2 325.8,629.44 326.9,626.37 328,622.89 329,615.77 330,607.56 331,600.1 332,596.74 333.14,598.09 334.28,598.57 335.42,599.28 336.56,601.94 337.7,603.93 338.84,609.58 339.98,615.21 341.12,620.02 342.26,624.79 343.4,631.7 344.62,629.88 345.85,629.16 347.07,625.01 348.3,625.72 349.4,613.93 350.5,602.11 351.6,592.19 352.6,596.85 353.6,601.93 354.6,612.15 355.6,617.35 356.68,615.18 357.75,608.64 358.82,602.83 359.9,601.46 361.04,604.69 362.18,608.88 363.32,615.08 364.46,621.64 365.6,623.85 366.83,619.62 368.05,612.72 369.27,605.98 370.5,599.01 371.64,605.72 372.78,613.32 373.92,620.93 375.06,625.35 376.2,630.99 377.28,626.01 378.37,622.02 379.45,613.97 380.53,610.65 381.62,606.97 382.7,601.73 383.77,607.24 384.83,614.64 385.9,620.62 387.04,617.48 388.18,619.24 389.32,616.13 390.46,613.92 391.6,612.2 392.7,615.45 393.8,621.69 394.9,622.49 395.98,618.52 397.07,616.51 398.15,610.69 399.23,604.74 400.32,602.4 401.4,599.87 402.62,605.83 403.85,614.24 405.07,619.69 406.3,627.78 407.32,626.74 408.35,622.25 409.38,619.54 410.4,619.3 411.52,612.6 412.65,602.47 413.77,592.06 414.9,585.56 416.3,596.57 417.7,609.93 418.8,610.74 419.9,607.3 421,607.09 422.2,612.79 423.4,616.83 424.6,624.73 425.8,630.66 426.9,626.44 428,622.56 429.1,620.44 430.2,616.18 431.3,612.1 432.4,611.5 433.4,612.91 434.4,612.76 435.4,613.17 436.4,614.26 437.5,612.1 438.6,611.39 439.7,609.23 440.84,612.98 441.98,616.92 443.12,621.39 444.26,622.16 445.4,625.75 446.42,623.73 447.45,619.24 448.48,611.42 449.5,606.93 450.58,606.97 451.66,605.29 452.74,604.69 453.82,602.04 454.9,602.1 456.12,606.61 457.35,609.92 458.57,614.7 459.8,621.94 461.02,619.99 462.25,617.53 463.48,613.25 464.7,610.96 465.84,611.29 466.98,611.31 468.12,607.63 469.26,608.42 470.4,607.14 471.47,612.64 472.53,616.84 473.6,621.72 474.7,618.59 475.8,611.89 476.9,605.13 478.1,613.62 479.3,621.56 480.55,615.49 481.8,605.49 483,612.48 484.2,621.33 485.23,618.37 486.25,617.98 487.27,618.43 488.3,616.26 489.52,614.99 490.75,615.4 491.98,615.99 493.2,614.71 494.4,612.54 495.6,610.39 496.8,609.09 498,608.4 499.14,606.73 500.28,604.51 501.42,601.63 502.56,601.26 503.7,601.71 504.73,606.04 505.75,611.61 506.77,617.62 507.8,620.27 509.03,622.13 510.25,622.37 511.48,623.21 512.7,624.08 513.73,620.09 514.75,614.61 515.77,609.33 516.8,605.39 517.8,604.68 518.8,602.32 519.8,600.84 520.8,597.04 521.9,602.85 523,612.12 524.1,617.47 525.2,623.41 526.35,620.43 527.5,615.66 528.65,614.32 529.8,609.57 531.02,612.54 532.25,612.8 533.48,613.8 534.7,618.35 535.84,617.53 536.98,615.35 538.12,615.51 539.26,615.63 540.4,616.81 541.54,613.62 542.68,611.63 543.82,612.83 544.96,611.63 546.1,608.13 547.27,606.3 548.43,604.28 549.6,604.05 550.64,606.44 551.69,610.18 552.73,613.51 553.77,615.46 554.81,618.83 555.86,621.64 556.9,623.85 557.97,621.26 559.03,620.17 560.1,618.11 561.17,616.9 562.23,612.1 563.3,612.45 564.5,611.87 565.7,616.61 566.9,618.96 568.05,615.86 569.2,614.05 570.35,609.61 571.5,605.81 572.6,608.4 573.7,611.23 574.8,612.63 575.9,613.32 577,614.56 578.05,613.73 579.1,613.87 580.15,611.5 581.2,610.28 582.25,609.95 583.3,608.78 584.45,610.69 585.6,615.51 586.75,619.64 587.9,621.01 588.97,620.09 590.03,618.38 591.1,617.91 592.17,616.84 593.23,618.01 594.3,618.46 595.34,615.26 596.39,616.13 597.43,612.78 598.47,612.24 599.51,610.88 600.56,609.87 601.6,605.63 602.75,605.92 603.9,608.61 605.05,606.56 606.2,606.28 607.35,608.73 608.5,610.2" fill="none" stroke="#0b7a12" stroke-width="1.8" stroke-linejoin="round" stroke-linecap="round"/><polyline points="269.5,537 270.6,499.5 271.6,499.5 272.7,537" fill="none" stroke="#3a98ff" stroke-width="3.2" stroke-linejoin="round" stroke-linecap="round"/><polyline points="269.5,537 270.6,499.5 271.6,499.5 272.7,537" fill="none" stroke="#1010e8" stroke-width="0.9" stroke-linejoin="round" stroke-linecap="round"/><path d="M269.37,499.3L271.77,501.7M269.37,501.7L271.77,499.3" stroke="#1010e8" stroke-width="0.6"/><path d="M270.43,499.3L272.83,501.7M270.43,501.7L272.83,499.3" stroke="#1010e8" stroke-width="0.6"/><path d="M269.29,501.9L271.69,504.3M269.29,504.3L271.69,501.9" stroke="#1010e8" stroke-width="0.6"/><path d="M270.51,501.9L272.91,504.3M270.51,504.3L272.91,501.9" stroke="#1010e8" stroke-width="0.6"/><path d="M269.22,504.5L271.62,506.9M269.22,506.9L271.62,504.5" stroke="#1010e8" stroke-width="0.6"/><path d="M270.58,504.5L272.98,506.9M270.58,506.9L272.98,504.5" stroke="#1010e8" stroke-width="0.6"/><path d="M269.14,507.1L271.54,509.5M269.14,509.5L271.54,507.1" stroke="#1010e8" stroke-width="0.6"/><path d="M270.66,507.1L273.06,509.5M270.66,509.5L273.06,507.1" stroke="#1010e8" stroke-width="0.6"/><path d="M269.07,509.7L271.47,512.1M269.07,512.1L271.47,509.7" stroke="#1010e8" stroke-width="0.6"/><path d="M270.73,509.7L273.13,512.1M270.73,512.1L273.13,509.7" stroke="#1010e8" stroke-width="0.6"/><path d="M268.99,512.3L271.39,514.7M268.99,514.7L271.39,512.3" stroke="#1010e8" stroke-width="0.6"/><path d="M270.81,512.3L273.21,514.7M270.81,514.7L273.21,512.3" stroke="#1010e8" stroke-width="0.6"/><path d="M268.91,514.9L271.31,517.3M268.91,517.3L271.31,514.9" stroke="#1010e8" stroke-width="0.6"/><path d="M270.89,514.9L273.29,517.3M270.89,517.3L273.29,514.9" stroke="#1010e8" stroke-width="0.6"/><path d="M268.84,517.5L271.24,519.9M268.84,519.9L271.24,517.5" stroke="#1010e8" stroke-width="0.6"/><path d="M270.96,517.5L273.36,519.9M270.96,519.9L273.36,517.5" stroke="#1010e8" stroke-width="0.6"/><path d="M268.76,520.1L271.16,522.5M268.76,522.5L271.16,520.1" stroke="#1010e8" stroke-width="0.6"/><path d="M271.04,520.1L273.44,522.5M271.04,522.5L273.44,520.1" stroke="#1010e8" stroke-width="0.6"/><path d="M268.68,522.7L271.08,525.1M268.68,525.1L271.08,522.7" stroke="#1010e8" stroke-width="0.6"/><path d="M271.12,522.7L273.52,525.1M271.12,525.1L273.52,522.7" stroke="#1010e8" stroke-width="0.6"/><path d="M268.61,525.3L271.01,527.7M268.61,527.7L271.01,525.3" stroke="#1010e8" stroke-width="0.6"/><path d="M271.19,525.3L273.59,527.7M271.19,527.7L273.59,525.3" stroke="#1010e8" stroke-width="0.6"/><path d="M268.53,527.9L270.93,530.3M268.53,530.3L270.93,527.9" stroke="#1010e8" stroke-width="0.6"/><path d="M271.27,527.9L273.67,530.3M271.27,530.3L273.67,527.9" stroke="#1010e8" stroke-width="0.6"/><path d="M268.46,530.5L270.86,532.9M268.46,532.9L270.86,530.5" stroke="#1010e8" stroke-width="0.6"/><path d="M271.34,530.5L273.74,532.9M271.34,532.9L273.74,530.5" stroke="#1010e8" stroke-width="0.6"/><path d="M268.38,533.1L270.78,535.5M268.38,535.5L270.78,533.1" stroke="#1010e8" stroke-width="0.6"/><path d="M271.42,533.1L273.82,535.5M271.42,535.5L273.82,533.1" stroke="#1010e8" stroke-width="0.6"/><polyline points="269.7,626 270.8,574.5 271.8,574.5 272.9,626" fill="none" stroke="#44c86c" stroke-width="3.2" stroke-linejoin="round" stroke-linecap="round"/><polyline points="269.7,626 270.8,574.5 271.8,574.5 272.9,626" fill="none" stroke="#138a1a" stroke-width="0.9" stroke-linejoin="round" stroke-linecap="round"/><path d="M269.58,574.3L271.98,576.7M269.58,576.7L271.98,574.3" stroke="#138a1a" stroke-width="0.6"/><path d="M270.62,574.3L273.02,576.7M270.62,576.7L273.02,574.3" stroke="#138a1a" stroke-width="0.6"/><path d="M269.52,576.9L271.92,579.3M269.52,579.3L271.92,576.9" stroke="#138a1a" stroke-width="0.6"/><path d="M270.68,576.9L273.08,579.3M270.68,579.3L273.08,576.9" stroke="#138a1a" stroke-width="0.6"/><path d="M269.47,579.5L271.87,581.9M269.47,581.9L271.87,579.5" stroke="#138a1a" stroke-width="0.6"/><path d="M270.73,579.5L273.13,581.9M270.73,581.9L273.13,579.5" stroke="#138a1a" stroke-width="0.6"/><path d="M269.41,582.1L271.81,584.5M269.41,584.5L271.81,582.1" stroke="#138a1a" stroke-width="0.6"/><path d="M270.79,582.1L273.19,584.5M270.79,584.5L273.19,582.1" stroke="#138a1a" stroke-width="0.6"/><path d="M269.36,584.7L271.76,587.1M269.36,587.1L271.76,584.7" stroke="#138a1a" stroke-width="0.6"/><path d="M270.84,584.7L273.24,587.1M270.84,587.1L273.24,584.7" stroke="#138a1a" stroke-width="0.6"/><path d="M269.3,587.3L271.7,589.7M269.3,589.7L271.7,587.3" stroke="#138a1a" stroke-width="0.6"/><path d="M270.9,587.3L273.3,589.7M270.9,589.7L273.3,587.3" stroke="#138a1a" stroke-width="0.6"/><path d="M269.25,589.9L271.65,592.3M269.25,592.3L271.65,589.9" stroke="#138a1a" stroke-width="0.6"/><path d="M270.95,589.9L273.35,592.3M270.95,592.3L273.35,589.9" stroke="#138a1a" stroke-width="0.6"/><path d="M269.19,592.5L271.59,594.9M269.19,594.9L271.59,592.5" stroke="#138a1a" stroke-width="0.6"/><path d="M271.01,592.5L273.41,594.9M271.01,594.9L273.41,592.5" stroke="#138a1a" stroke-width="0.6"/><path d="M269.13,595.1L271.53,597.5M269.13,597.5L271.53,595.1" stroke="#138a1a" stroke-width="0.6"/><path d="M271.07,595.1L273.47,597.5M271.07,597.5L273.47,595.1" stroke="#138a1a" stroke-width="0.6"/><path d="M269.08,597.7L271.48,600.1M269.08,600.1L271.48,597.7" stroke="#138a1a" stroke-width="0.6"/><path d="M271.12,597.7L273.52,600.1M271.12,600.1L273.52,597.7" stroke="#138a1a" stroke-width="0.6"/><path d="M269.02,600.3L271.42,602.7M269.02,602.7L271.42,600.3" stroke="#138a1a" stroke-width="0.6"/><path d="M271.18,600.3L273.58,602.7M271.18,602.7L273.58,600.3" stroke="#138a1a" stroke-width="0.6"/><path d="M268.97,602.9L271.37,605.3M268.97,605.3L271.37,602.9" stroke="#138a1a" stroke-width="0.6"/><path d="M271.23,602.9L273.63,605.3M271.23,605.3L273.63,602.9" stroke="#138a1a" stroke-width="0.6"/><path d="M268.91,605.5L271.31,607.9M268.91,607.9L271.31,605.5" stroke="#138a1a" stroke-width="0.6"/><path d="M271.29,605.5L273.69,607.9M271.29,607.9L273.69,605.5" stroke="#138a1a" stroke-width="0.6"/><path d="M268.86,608.1L271.26,610.5M268.86,610.5L271.26,608.1" stroke="#138a1a" stroke-width="0.6"/><path d="M271.34,608.1L273.74,610.5M271.34,610.5L273.74,608.1" stroke="#138a1a" stroke-width="0.6"/><path d="M268.8,610.7L271.2,613.1M268.8,613.1L271.2,610.7" stroke="#138a1a" stroke-width="0.6"/><path d="M271.4,610.7L273.8,613.1M271.4,613.1L273.8,610.7" stroke="#138a1a" stroke-width="0.6"/><path d="M268.75,613.3L271.15,615.7M268.75,615.7L271.15,613.3" stroke="#138a1a" stroke-width="0.6"/><path d="M271.45,613.3L273.85,615.7M271.45,615.7L273.85,613.3" stroke="#138a1a" stroke-width="0.6"/><path d="M268.69,615.9L271.09,618.3M268.69,618.3L271.09,615.9" stroke="#138a1a" stroke-width="0.6"/><path d="M271.51,615.9L273.91,618.3M271.51,618.3L273.91,615.9" stroke="#138a1a" stroke-width="0.6"/><path d="M268.63,618.5L271.03,620.9M268.63,620.9L271.03,618.5" stroke="#138a1a" stroke-width="0.6"/><path d="M271.57,618.5L273.97,620.9M271.57,620.9L273.97,618.5" stroke="#138a1a" stroke-width="0.6"/><path d="M268.58,621.1L270.98,623.5M268.58,623.5L270.98,621.1" stroke="#138a1a" stroke-width="0.6"/><path d="M271.62,621.1L274.02,623.5M271.62,623.5L274.02,621.1" stroke="#138a1a" stroke-width="0.6"/><path d="M268.52,623.7L270.92,626.1M268.52,626.1L270.92,623.7" stroke="#138a1a" stroke-width="0.6"/><path d="M271.68,623.7L274.08,626.1M271.68,626.1L274.08,623.7" stroke="#138a1a" stroke-width="0.6"/><polyline points="267.4,555.19 268.4,556.83 269.4,557.16 270.4,556.17 271.4,555.45 272.4,551.25 273.4,552.96 274.4,555.83 275.4,554.13 276.4,551.8 277.4,553.63 278.4,554.45 279.4,556.66 280.4,556.67 281.4,555.7 282.4,552.2 283.4,551.89 284.4,553.58 285.4,554.86 286.4,555.32 287.4,556.73 288.4,557.53 289.4,555.06 290.4,553.95 291.4,555.47 292.4,557.53 293.4,555.89 294.4,555.67 295.4,556.28 296.4,552.8 297.4,552 298.4,555.9 299.4,557.16 300.4,556.34 301.4,554.81 302.4,555.99 303.4,555.72 304.4,554.6 305.4,554.98 306.4,556.68 307.4,556.11 308.4,554.83 309.4,554.45 310.4,554.82 311.4,555 312.4,554.28 313.4,553.87 314.4,554.81 315.4,555.25 316.4,554.85 317.4,556.29 318.4,556.15 319.4,554.53 320.4,554.6 321.4,555.62 322.4,554.93 323.4,555.55 324.4,554.1 325.4,554.09 326.4,555.48 327.4,555.58 328.4,555.84 329.4,554.77 330.4,554.96 331.4,555.2 332.4,554.59 333.4,555.25 334.4,555.31 335.4,556.55 336.4,556.14 337.4,555.48 338.4,554.37 339.4,553.85 340.4,555.13 341.4,554.14 342.4,553.58 343.4,553.45 344.4,554.3 345.4,555.54 346.4,555.68 347.4,556.26 348.4,554.65 349.4,553.63 350.4,555.04 351.4,554.65 352.4,555.46 353.4,554.96 354.4,554.21 355.4,554.05 356.4,553.53 357.4,555.33 358.4,555.48 359.4,554.96 360.4,554.94 361.4,554.76 362.4,553.8 363.4,555.45 364.4,555.55 365.4,556.59 366.4,555.81 367.4,555.85 368.4,554.9 369.4,553.85 370.4,555.58 371.4,556.33 372.4,555.34 373.4,556.31 374.4,556.63 375.4,555.48 376.4,555.62 377.4,556.63 378.4,555.97 379.4,556.79 380.4,555.41 381.4,555.03 382.4,555.67 383.4,554.74 384.4,554.45 385.4,555.76 386.4,555.47 387.4,556.11 388.4,555.03 389.4,554.26 390.4,554.31 391.4,553.9 392.4,555.71 393.4,554.94 394.4,555.21 395.4,554.21 396.4,554.74 397.4,554.65 398.4,554.65 399.4,553.77 400.4,553.43 401.4,555.07 402.4,554.74 403.4,554.29 404.4,553.89 405.4,553.92 406.4,553.81 407.4,553.23 408.4,554.54 409.4,554.43 410.4,553.88 411.4,555.01 412.4,554.04 413.4,553.96 414.4,555.39 415.4,554.34 416.4,554.58 417.4,555.73 418.4,556.29 419.4,554.91 420.4,554.66 421.4,555.48 422.4,555.03 423.4,556.3 424.4,555.05 425.4,556.29 426.4,555.81 427.4,554.83 428.4,554.87 429.4,554.06 430.4,555.11 431.4,554.53 432.4,555.87 433.4,555.8 434.4,555.18 435.4,554.53 436.4,555.11 437.4,554.41 438.4,555.73 439.4,554.51 440.4,554.86 441.4,555.12 442.4,554.56 443.4,555.55 444.4,555.1 445.4,555.55 446.4,555.57 447.4,554.91 448.4,554.76 449.4,553.88 450.4,553.63 451.4,555.25 452.4,554.76 453.4,555.38 454.4,554.28 455.4,554.86 456.4,554.65 457.4,554.9 458.4,554.51 459.4,553.69 460.4,553.88 461.4,553.76 462.4,553.44 463.4,554.79 464.4,554.41 465.4,554.51 466.4,555.89 467.4,556.29 468.4,556.8 469.4,557.02 470.4,555.24 471.4,554.64 472.4,553.67 473.4,554.83 474.4,555.42 475.4,554.93 476.4,554.83 477.4,555.41 478.4,555.83 479.4,554.89 480.4,555.93 481.4,555.22 482.4,555.55 483.4,554.56 484.4,553.85 485.4,555.53 486.4,555.99 487.4,556.19 488.4,554.55 489.4,553.65 490.4,553.47 491.4,553.46 492.4,553.73 493.4,554.08 494.4,553.39 495.4,553.71 496.4,554.74 497.4,554.11 498.4,555.49 499.4,555.54 500.4,555.95 501.4,554.97 502.4,554.91 503.4,555.52 504.4,554.98 505.4,553.78 506.4,555.29 507.4,555.97 508.4,555.07 509.4,553.94 510.4,555.43 511.4,555.6 512.4,554.25 513.4,554.01 514.4,553.53 515.4,555.04 516.4,554.36 517.4,555.82 518.4,556.19 519.4,554.67 520.4,555.41 521.4,555.04 522.4,555.76 523.4,556.36 524.4,555.27 525.4,554.17 526.4,555.8 527.4,555.33 528.4,556.39 529.4,556.35 530.4,556.45 531.4,556.75 532.4,556.38 533.4,555.73 534.4,554.33 535.4,555.24 536.4,555.03 537.4,555.14 538.4,556.28 539.4,554.83 540.4,555.68 541.4,554.27 542.4,555.22 543.4,556.01 544.4,555.02 545.4,555.22 546.4,556.43 547.4,556.24 548.4,555.88 549.4,554.93 550.4,553.9 551.4,554.12 552.4,554.37 553.4,553.97 554.4,554.03 555.4,553.61 556.4,554.86 557.4,555.46 558.4,554.66 559.4,554.23 560.4,554.71 561.4,554.79 562.4,556.11 563.4,555.31 564.4,554.74 565.4,555.95 566.4,554.68 567.4,555.08 568.4,554.7 569.4,555.75 570.4,555.63 571.4,556.11 572.4,554.84 573.4,555.44 574.4,555.59 575.4,555.31 576.4,555.95 577.4,556.48 578.4,554.9 579.4,554.49 580.4,554.44 581.4,554.02 582.4,553.41 583.4,553.65 584.4,553.56 585.4,554.82 586.4,554.86 587.4,554 588.4,554.09 589.4,554.51 590.4,554.46 591.4,553.93 592.4,553.39 593.4,552.93 594.4,555.23 595.4,555.87 596.4,554.49 597.4,555.37 598.4,556.54 599.4,556.1 600.4,554.68 601.4,554.89 602.4,554.86 603.4,554.2 604.4,554.76 605.4,553.68 606.4,555.46 607.4,555.72 608.4,555.82" fill="none" stroke="#f2a0a0" stroke-width="0.9" stroke-linejoin="round" stroke-linecap="round" /><polyline points="267.4,642.5 268.4,642.33 269.4,640.66 270.4,639.48 271.4,636.43 272.4,632.4 273.4,637.12 274.4,641.24 275.4,639.26 276.4,636.47 277.4,638.89 278.4,641.79 279.4,643.13 280.4,640.77 281.4,641.49 282.4,640.75 283.4,640.55 284.4,640.58 285.4,639.75 286.4,641.52 287.4,640.48 288.4,639.78 289.4,639.07 290.4,638.4 291.4,641.25 292.4,640.27 293.4,638.74 294.4,639.91 295.4,640.4 296.4,640.11 297.4,640.06 298.4,642.56 299.4,643.81 300.4,642.47 301.4,641.71 302.4,640.39 303.4,639.64 304.4,638.66 305.4,637.37 306.4,639.99 307.4,639.79 308.4,640.12 309.4,641.65 310.4,640.2 311.4,639.27 312.4,639.8 313.4,639.45 314.4,640.64 315.4,639.42 316.4,640.93 317.4,641.79 318.4,642.09 319.4,641.32 320.4,640.52 321.4,641.07 322.4,640.98 323.4,640.7 324.4,640.32 325.4,640.38 326.4,641 327.4,641.76 328.4,642.38 329.4,640.8 330.4,640.27 331.4,640.36 332.4,640.72 333.4,640.36 334.4,639.77 335.4,639.15 336.4,639.44 337.4,639.95 338.4,641.56 339.4,642.28 340.4,642.56 341.4,643 342.4,643.21 343.4,642.44 344.4,642.51 345.4,640.6 346.4,641.15 347.4,641.27 348.4,640.53 349.4,640.84 350.4,642 351.4,641.41 352.4,641.52 353.4,640.67 354.4,640.32 355.4,641.54 356.4,639.98 357.4,639.54 358.4,640.57 359.4,640.54 360.4,639.58 361.4,640.54 362.4,640.33 363.4,640.75 364.4,640.55 365.4,640.74 366.4,640.94 367.4,640.61 368.4,639.69 369.4,639.36 370.4,641.02 371.4,641.05 372.4,639.93 373.4,641.26 374.4,640.41 375.4,639.53 376.4,640.18 377.4,639.82 378.4,640.23 379.4,640.63 380.4,639.99 381.4,640.55 382.4,639.65 383.4,640.2 384.4,640.7 385.4,639.65 386.4,639.93 387.4,639.21 388.4,639.77 389.4,641.18 390.4,641.14 391.4,641.54 392.4,641.88 393.4,640.39 394.4,641.85 395.4,641.95 396.4,640.4 397.4,641.44 398.4,640.87 399.4,639.98 400.4,641.55 401.4,641.37 402.4,641.83 403.4,640.42 404.4,641.31 405.4,639.93 406.4,639.64 407.4,639.83 408.4,639.01 409.4,640.06 410.4,639.65 411.4,639.65 412.4,640.7 413.4,640.55 414.4,641.68 415.4,641.6 416.4,642.21 417.4,641.74 418.4,642.4 419.4,642.64 420.4,640.95 421.4,641.52 422.4,640.78 423.4,641.48 424.4,641.64 425.4,642.11 426.4,640.54 427.4,640.33 428.4,641.16 429.4,642.16 430.4,642.13 431.4,640.34 432.4,640.82 433.4,639.77 434.4,640.36 435.4,641.35 436.4,640.09 437.4,641.52 438.4,641.65 439.4,640.63 440.4,639.91 441.4,640.17 442.4,641.33 443.4,641.3 444.4,640.07 445.4,639.15 446.4,638.88 447.4,640.53 448.4,639.83 449.4,640.41 450.4,640.04 451.4,640.87 452.4,640.53 453.4,639.73 454.4,641.18 455.4,641.11 456.4,641.46 457.4,641.97 458.4,642.61 459.4,640.53 460.4,640.24 461.4,639.59 462.4,640.14 463.4,641.41 464.4,641.91 465.4,640.2 466.4,639.65 467.4,640.99 468.4,641.37 469.4,640.84 470.4,640.76 471.4,639.89 472.4,641.2 473.4,640.74 474.4,641.74 475.4,641.6 476.4,640.14 477.4,639.99 478.4,639.62 479.4,641.17 480.4,641.24 481.4,639.85 482.4,639.42 483.4,639.68 484.4,640.1 485.4,640.62 486.4,640.41 487.4,640.2 488.4,639.19 489.4,640.12 490.4,639.99 491.4,639.11 492.4,639.76 493.4,641.5 494.4,640 495.4,639.44 496.4,640.5 497.4,640.04 498.4,639.79 499.4,640.25 500.4,639.88 501.4,640.47 502.4,640.69 503.4,641.93 504.4,642.7 505.4,640.63 506.4,640.87 507.4,641.54 508.4,642.18 509.4,642.27 510.4,641.95 511.4,641.78 512.4,640.99 513.4,640.33 514.4,641.31 515.4,642.05 516.4,642.63 517.4,642.28 518.4,641.1 519.4,641.65 520.4,641.89 521.4,641.42 522.4,641.49 523.4,640.79 524.4,640.93 525.4,640.63 526.4,639.56 527.4,639.7 528.4,639.73 529.4,641.48 530.4,641.13 531.4,640.64 532.4,640.04 533.4,639.69 534.4,639.8 535.4,639.3 536.4,638.7 537.4,640.61 538.4,640.57 539.4,640.53 540.4,640.83 541.4,640.3 542.4,639.67 543.4,639.05 544.4,639.32 545.4,639.49 546.4,640.67 547.4,640.86 548.4,641.97 549.4,641.03 550.4,642.02 551.4,641.69 552.4,640.2 553.4,639.63 554.4,640.37 555.4,641.83 556.4,640.99 557.4,641.62 558.4,641.06 559.4,641.9 560.4,640.28 561.4,640.48 562.4,641.66 563.4,640.69 564.4,640.11 565.4,639.18 566.4,639.04 567.4,639.23 568.4,640.47 569.4,639.88 570.4,640.04 571.4,639.6 572.4,640.41 573.4,641.53 574.4,641.59 575.4,640.44 576.4,641.21 577.4,642.23 578.4,641.85 579.4,640.28 580.4,641.32 581.4,642.06 582.4,641.08 583.4,640.01 584.4,639.55 585.4,640.21 586.4,641.45 587.4,641.52 588.4,642.3 589.4,640.88 590.4,640.39 591.4,641.22 592.4,641.42 593.4,640.89 594.4,641.32 595.4,640.66 596.4,639.57 597.4,639.9 598.4,639.12 599.4,640.21 600.4,640.04 601.4,640.37 602.4,640.82 603.4,640.18 604.4,640.36 605.4,639.29 606.4,641.08 607.4,641.12 608.4,642.24" fill="none" stroke="#f2a0a0" stroke-width="0.9" stroke-linejoin="round" stroke-linecap="round" /></g>
</svg></div></body></html>
